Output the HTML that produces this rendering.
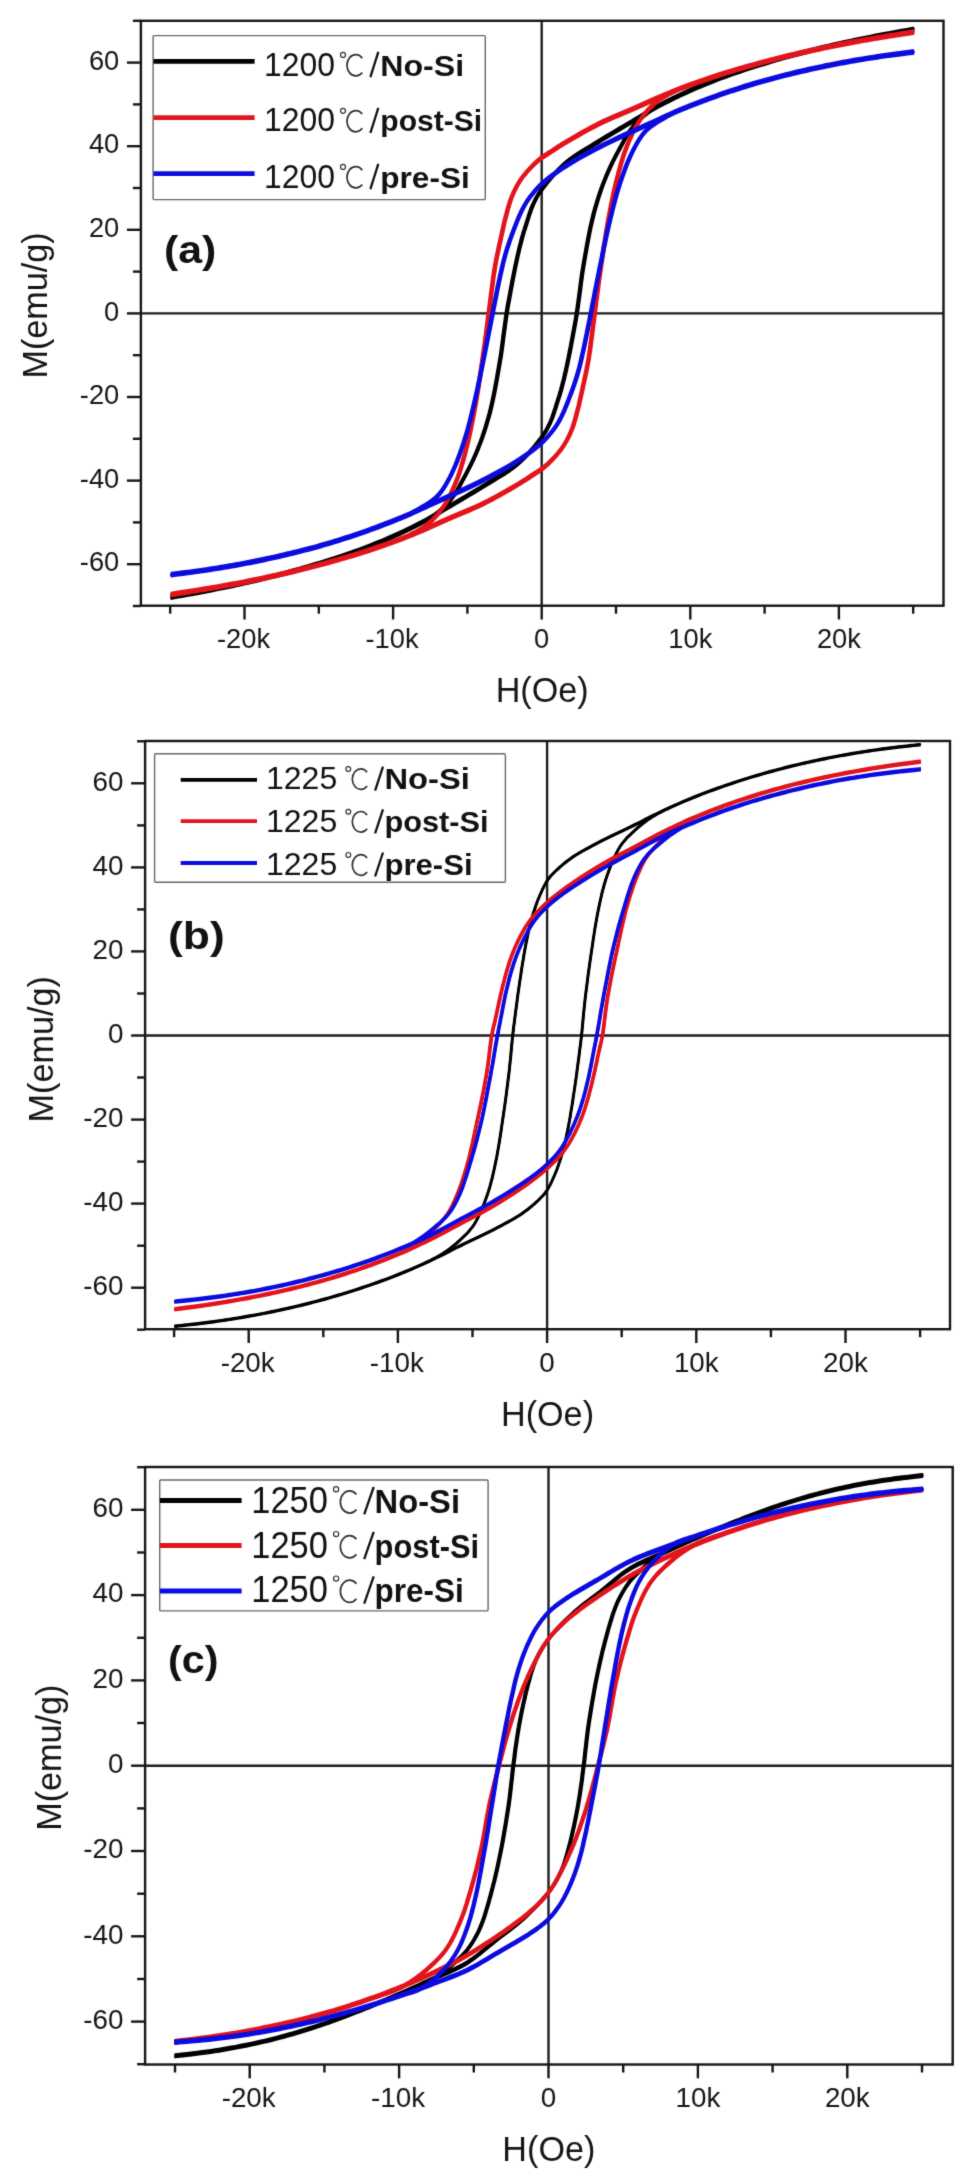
<!DOCTYPE html>
<html><head><meta charset="utf-8"><title>M-H hysteresis loops</title>
<style>
html,body{margin:0;padding:0;background:#fff;}
body{width:975px;height:2182px;overflow:hidden;font-family:"Liberation Sans",sans-serif;}
svg{display:block;}
</style></head><body>
<svg width="975" height="2182" viewBox="0 0 975 2182">
<rect width="975" height="2182" fill="#fff"/>
<defs><filter id="soft" x="0" y="0" width="975" height="2182" filterUnits="userSpaceOnUse" color-interpolation-filters="sRGB"><feConvolveMatrix order="3" kernelMatrix="0.0144 0.0912 0.0144 0.0912 0.5776 0.0912 0.0144 0.0912 0.0144" edgeMode="duplicate" preserveAlpha="true"/></filter></defs>
<g filter="url(#soft)">
<rect width="975" height="2182" fill="#fff"/>
<g id="panel-a">
<g stroke="#1e1e1e" stroke-width="2.4">
<line x1="140.9" y1="313.4" x2="943.5" y2="313.4"/><line x1="541.7" y1="20.8" x2="541.7" y2="605.7"/>
</g>
<clipPath id="clip-a"><rect x="170.6" y="20.8" width="743.8" height="584.9"/></clipPath>
<g fill="none" stroke-width="4.3" stroke-linejoin="round" stroke-linecap="round" clip-path="url(#clip-a)"><g transform="scale(1 1.0)">
<g stroke="#000000" stroke-width="1.6">
<path id="ca0" d="M913.0 29.45 L909.2 30.14 L905.4 30.82 L901.5 31.50 L897.7 32.18 L893.9 32.87 L890.1 33.57 L886.2 34.27 L882.4 35.00 L878.5 35.75 L874.6 36.51 L870.6 37.28 L866.7 38.06 L862.8 38.85 L858.9 39.66 L854.9 40.47 L851.0 41.30 L847.1 42.14 L843.1 43.00 L839.2 43.87 L835.2 44.75 L831.3 45.64 L827.4 46.54 L823.4 47.46 L819.5 48.40 L815.6 49.35 L811.6 50.31 L807.7 51.28 L803.8 52.27 L799.9 53.27 L795.9 54.29 L792.0 55.33 L788.1 56.40 L784.2 57.49 L780.2 58.61 L776.3 59.74 L772.4 60.89 L768.5 62.07 L764.5 63.26 L760.6 64.47 L756.7 65.70 L752.8 66.95 L748.8 68.22 L744.9 69.50 L741.0 70.81 L737.0 72.14 L733.1 73.49 L729.2 74.88 L725.3 76.30 L721.3 77.77 L717.4 79.27 L713.4 80.79 L709.5 82.34 L705.6 83.93 L701.6 85.55 L697.7 87.21 L693.8 88.90 L689.8 90.65 L685.9 92.42 L682.0 94.23 L678.0 96.08 L674.1 97.97 L670.2 99.90 L666.3 101.87 L662.4 103.90 L658.4 106.04 L654.5 108.25 L650.6 110.51 L646.7 112.82 L642.8 115.15 L638.9 117.51 L634.9 119.86 L631.0 122.20 L627.0 124.58 L622.9 126.96 L618.8 129.35 L614.8 131.75 L610.7 134.17 L606.6 136.62 L602.6 139.09 L598.5 141.60 L594.3 144.15 L590.1 146.69 L585.8 149.23 L581.6 151.81 L577.4 154.45 L573.3 157.18 L569.4 160.02 L565.7 163.00 L562.3 166.00 L559.0 169.19 L555.8 172.50 L552.8 175.88 L549.8 179.27 L547.1 182.59 L544.6 185.79 L542.3 188.80 L540.9 190.81 L539.5 192.72 L538.3 194.56 L537.2 196.38 L536.2 198.20 L535.2 200.06 L534.3 201.98 L533.3 204.00 L532.3 206.35 L531.3 208.83 L530.4 211.38 L529.5 213.97 L528.7 216.57 L527.8 219.14 L527.1 221.62 L526.3 224.00 L525.7 225.89 L525.1 227.69 L524.6 229.42 L524.0 231.14 L523.5 232.87 L523.0 234.64 L522.4 236.51 L521.9 238.50 L521.2 241.22 L520.5 244.02 L519.7 246.92 L519.0 249.93 L518.3 253.06 L517.5 256.33 L516.8 259.74 L516.0 263.30 L514.9 268.69 L513.7 274.54 L512.5 280.72 L511.3 287.14 L510.1 293.69 L508.9 300.25 L507.7 306.72 L506.7 313.00 L505.8 318.92 L505.0 324.79 L504.2 330.62 L503.4 336.45 L502.7 342.29 L501.9 348.16 L501.1 354.09 L500.1 360.10 L499.0 366.70 L497.8 373.48 L496.6 380.37 L495.3 387.28 L494.0 394.13 L492.6 400.84 L491.1 407.32 L489.6 413.50 L488.2 418.48 L486.8 423.31 L485.4 428.02 L483.9 432.61 L482.4 437.10 L480.8 441.50 L479.1 445.83 L477.4 450.10 L475.8 453.94 L474.1 457.72 L472.4 461.43 L470.6 465.08 L468.8 468.65 L467.0 472.13 L465.2 475.52 L463.4 478.80 L461.9 481.53 L460.5 484.19 L459.1 486.78 L457.7 489.31 L456.2 491.78 L454.7 494.18 L453.1 496.52 L451.4 498.80 L449.6 500.99 L447.7 503.15 L445.7 505.26 L443.7 507.30 L441.6 509.26 L439.6 511.12 L437.5 512.88 L435.4 514.51 L433.7 515.77 L432.0 516.90 L430.3 517.93 L428.6 518.90 L426.9 519.84 L425.0 520.80 L423.1 521.81 L421.0 522.90 L417.7 524.63 L414.0 526.46 L410.2 528.38 L406.1 530.33 L402.0 532.29 L397.8 534.23 L393.6 536.11 L389.6 537.90 L385.7 539.59 L381.8 541.25 L377.8 542.87 L373.9 544.46 L370.0 546.01 L366.0 547.53 L362.1 549.03 L358.1 550.50 L354.2 551.92 L350.3 553.31 L346.4 554.66 L342.4 555.99 L338.5 557.30 L334.6 558.58 L330.6 559.85 L326.7 561.10 L322.8 562.33 L318.9 563.54 L314.9 564.73 L311.0 565.91 L307.1 567.06 L303.2 568.19 L299.2 569.31 L295.3 570.40 L291.4 571.47 L287.5 572.51 L283.5 573.53 L279.6 574.53 L275.7 575.52 L271.8 576.49 L267.8 577.45 L263.9 578.40 L260.0 579.34 L256.0 580.26 L252.1 581.16 L248.2 582.05 L244.2 582.93 L240.3 583.80 L236.3 584.66 L232.4 585.50 L228.5 586.33 L224.6 587.14 L220.6 587.94 L216.7 588.73 L212.8 589.51 L208.9 590.28 L204.9 591.05 L201.0 591.80 L196.6 592.62 L191.7 593.53 L186.5 594.48 L181.4 595.40 L176.8 596.22 L173.0 596.89 L170.5 597.34 L169.6 597.50 L169.6 597.50 L169.7 597.48 L169.8 597.47 L169.9 597.45 L170.0 597.42 L170.2 597.40 L170.3 597.37 L170.4 597.35 L174.2 596.66 L178.0 595.98 L181.9 595.30 L185.7 594.62 L189.5 593.93 L193.3 593.23 L197.2 592.53 L201.0 591.80 L204.9 591.05 L208.8 590.29 L212.8 589.52 L216.7 588.74 L220.6 587.95 L224.5 587.14 L228.5 586.33 L232.4 585.50 L236.3 584.66 L240.3 583.80 L244.2 582.93 L248.2 582.05 L252.1 581.16 L256.0 580.26 L260.0 579.34 L263.9 578.40 L267.8 577.45 L271.8 576.49 L275.7 575.52 L279.6 574.53 L283.5 573.53 L287.5 572.51 L291.4 571.47 L295.3 570.40 L299.2 569.31 L303.2 568.19 L307.1 567.06 L311.0 565.91 L314.9 564.73 L318.9 563.54 L322.8 562.33 L326.7 561.10 L330.6 559.85 L334.6 558.58 L338.5 557.30 L342.4 555.99 L346.4 554.66 L350.3 553.31 L354.2 551.92 L358.1 550.50 L362.1 549.03 L366.0 547.53 L370.0 546.01 L373.9 544.46 L377.8 542.87 L381.8 541.25 L385.7 539.59 L389.6 537.90 L393.6 536.15 L397.5 534.38 L401.4 532.57 L405.4 530.72 L409.3 528.83 L413.2 526.90 L417.1 524.93 L421.0 522.90 L425.0 520.76 L428.9 518.55 L432.8 516.29 L436.7 513.98 L440.6 511.65 L444.5 509.29 L448.5 506.94 L452.4 504.60 L456.4 502.22 L460.5 499.84 L464.6 497.45 L468.6 495.05 L472.7 492.63 L476.8 490.18 L480.8 487.71 L484.9 485.20 L489.1 482.65 L493.3 480.11 L497.6 477.57 L501.8 474.99 L506.0 472.35 L510.1 469.62 L514.0 466.78 L517.7 463.80 L521.1 460.80 L524.4 457.61 L527.6 454.30 L530.6 450.92 L533.6 447.53 L536.3 444.21 L538.8 441.01 L541.1 438.00 L542.5 435.99 L543.9 434.08 L545.1 432.24 L546.2 430.42 L547.2 428.60 L548.2 426.74 L549.1 424.82 L550.1 422.80 L551.1 420.45 L552.1 417.97 L553.0 415.42 L553.9 412.83 L554.7 410.23 L555.6 407.66 L556.3 405.18 L557.1 402.80 L557.7 400.91 L558.3 399.11 L558.8 397.38 L559.4 395.66 L559.9 393.93 L560.4 392.16 L561.0 390.29 L561.5 388.30 L562.2 385.58 L562.9 382.78 L563.7 379.88 L564.4 376.87 L565.1 373.74 L565.9 370.47 L566.6 367.06 L567.4 363.50 L568.5 358.11 L569.7 352.26 L570.9 346.08 L572.1 339.66 L573.3 333.11 L574.5 326.55 L575.7 320.08 L576.7 313.80 L577.6 307.88 L578.4 302.01 L579.2 296.18 L580.0 290.35 L580.7 284.51 L581.5 278.64 L582.3 272.71 L583.3 266.70 L584.4 260.10 L585.6 253.32 L586.8 246.43 L588.1 239.52 L589.4 232.67 L590.8 225.96 L592.3 219.48 L593.8 213.30 L595.2 208.32 L596.6 203.49 L598.0 198.78 L599.5 194.19 L601.0 189.70 L602.6 185.30 L604.3 180.97 L606.0 176.70 L607.6 172.86 L609.3 169.08 L611.0 165.37 L612.8 161.72 L614.6 158.15 L616.4 154.67 L618.2 151.28 L620.0 148.00 L621.5 145.27 L622.9 142.61 L624.3 140.02 L625.7 137.49 L627.2 135.02 L628.7 132.62 L630.3 130.28 L632.0 128.00 L633.8 125.81 L635.7 123.65 L637.7 121.54 L639.7 119.50 L641.8 117.54 L643.8 115.68 L645.9 113.92 L648.0 112.29 L649.7 111.03 L651.4 109.90 L653.1 108.87 L654.8 107.90 L656.5 106.96 L658.4 106.00 L660.3 104.99 L662.4 103.90 L665.7 102.17 L669.4 100.34 L673.2 98.42 L677.3 96.47 L681.4 94.51 L685.6 92.57 L689.8 90.69 L693.8 88.90 L697.7 87.21 L701.6 85.55 L705.6 83.93 L709.5 82.34 L713.4 80.79 L717.4 79.27 L721.3 77.77 L725.3 76.30 L729.2 74.88 L733.1 73.49 L737.0 72.14 L741.0 70.81 L744.9 69.50 L748.8 68.22 L752.8 66.95 L756.7 65.70 L760.6 64.47 L764.5 63.26 L768.5 62.07 L772.4 60.89 L776.3 59.74 L780.2 58.61 L784.2 57.49 L788.1 56.40 L792.0 55.33 L795.9 54.29 L799.9 53.27 L803.8 52.27 L807.7 51.28 L811.6 50.31 L815.6 49.35 L819.5 48.40 L823.4 47.46 L827.4 46.54 L831.3 45.64 L835.2 44.75 L839.2 43.87 L843.1 43.00 L847.1 42.14 L851.0 41.30 L854.9 40.47 L858.8 39.66 L862.8 38.86 L866.7 38.07 L870.6 37.29 L874.5 36.52 L878.5 35.75 L882.4 35.00 L886.8 34.18 L891.7 33.27 L896.9 32.32 L902.0 31.40 L906.6 30.58 L910.4 29.91 L912.9 29.46 L913.8 29.30 L913.8 29.30 L913.7 29.32 L913.6 29.33 L913.5 29.35 L913.4 29.38 L913.2 29.40 L913.1 29.43 L913.0 29.45"/>
<use href="#ca0" x="1.40" y="0.00"/>
<use href="#ca0" x="-1.40" y="0.00"/>
<use href="#ca0" x="0.00" y="1.85"/>
<use href="#ca0" x="0.00" y="-1.85"/>
<use href="#ca0" x="0.70" y="0.00"/>
<use href="#ca0" x="-0.70" y="0.00"/>
<use href="#ca0" x="0.00" y="0.93"/>
<use href="#ca0" x="0.00" y="-0.93"/>
</g>
<g stroke="#e3141c" stroke-width="1.7">
<path id="ca1" d="M913.0 32.23 L909.2 32.82 L905.4 33.41 L901.6 33.99 L897.8 34.58 L894.0 35.17 L890.2 35.77 L886.4 36.38 L882.6 37.00 L878.7 37.64 L874.8 38.29 L871.0 38.95 L867.1 39.62 L863.2 40.29 L859.3 40.98 L855.4 41.68 L851.5 42.40 L847.6 43.13 L843.7 43.88 L839.8 44.63 L835.9 45.40 L832.0 46.18 L828.1 46.98 L824.2 47.78 L820.3 48.60 L816.4 49.43 L812.5 50.27 L808.6 51.12 L804.7 51.99 L800.8 52.87 L796.9 53.76 L793.0 54.67 L789.1 55.60 L785.2 56.55 L781.3 57.51 L777.4 58.49 L773.5 59.48 L769.6 60.49 L765.8 61.51 L761.9 62.55 L758.0 63.60 L754.1 64.67 L750.2 65.75 L746.3 66.85 L742.4 67.96 L738.5 69.09 L734.6 70.23 L730.7 71.40 L726.8 72.60 L722.9 73.83 L719.0 75.07 L715.1 76.33 L711.2 77.62 L707.3 78.93 L703.4 80.26 L699.5 81.62 L695.6 83.00 L691.7 84.42 L687.8 85.85 L683.9 87.32 L680.0 88.80 L676.1 90.31 L672.2 91.85 L668.4 93.41 L664.5 95.00 L660.6 96.64 L656.7 98.33 L652.8 100.04 L648.9 101.78 L645.1 103.53 L641.2 105.29 L637.2 107.05 L633.3 108.80 L629.2 110.58 L625.0 112.33 L620.9 114.07 L616.7 115.82 L612.5 117.60 L608.3 119.43 L604.1 121.32 L600.0 123.30 L595.7 125.46 L591.3 127.75 L586.9 130.13 L582.6 132.54 L578.3 134.96 L574.2 137.32 L570.3 139.58 L566.7 141.70 L564.3 143.14 L562.0 144.54 L559.8 145.91 L557.7 147.23 L555.7 148.53 L553.8 149.81 L551.9 151.06 L550.0 152.30 L548.5 153.28 L547.0 154.22 L545.6 155.12 L544.3 156.01 L542.9 156.92 L541.6 157.85 L540.2 158.84 L538.9 159.90 L537.5 161.12 L536.0 162.41 L534.6 163.74 L533.2 165.12 L531.8 166.52 L530.4 167.95 L529.1 169.38 L527.8 170.80 L526.6 172.15 L525.5 173.49 L524.4 174.84 L523.3 176.20 L522.2 177.59 L521.2 179.01 L520.2 180.48 L519.2 182.00 L518.2 183.70 L517.2 185.44 L516.2 187.23 L515.3 189.06 L514.3 190.94 L513.5 192.85 L512.6 194.81 L511.8 196.80 L510.9 199.07 L510.1 201.41 L509.4 203.81 L508.6 206.26 L507.9 208.74 L507.2 211.25 L506.6 213.77 L505.9 216.30 L505.2 218.98 L504.5 221.67 L503.9 224.39 L503.3 227.13 L502.7 229.90 L502.1 232.72 L501.4 235.58 L500.8 238.50 L500.1 241.81 L499.3 245.14 L498.6 248.51 L497.9 251.94 L497.1 255.45 L496.4 259.07 L495.7 262.81 L495.0 266.70 L494.2 271.95 L493.3 277.53 L492.6 283.35 L491.8 289.32 L491.0 295.35 L490.3 301.37 L489.5 307.28 L488.8 313.00 L488.1 318.15 L487.5 323.19 L486.8 328.15 L486.2 333.08 L485.5 338.03 L484.9 343.05 L484.2 348.19 L483.4 353.50 L482.5 359.87 L481.5 366.50 L480.5 373.30 L479.5 380.19 L478.4 387.07 L477.3 393.86 L476.2 400.46 L475.1 406.80 L474.1 412.11 L473.1 417.31 L472.1 422.41 L471.1 427.43 L470.1 432.36 L469.0 437.22 L467.9 442.03 L466.7 446.80 L465.6 451.16 L464.5 455.48 L463.3 459.74 L462.1 463.96 L460.9 468.10 L459.6 472.18 L458.2 476.18 L456.7 480.10 L455.3 483.68 L453.8 487.22 L452.2 490.71 L450.6 494.13 L448.9 497.47 L447.2 500.71 L445.3 503.82 L443.4 506.80 L441.5 509.41 L439.6 511.95 L437.6 514.40 L435.5 516.76 L433.3 519.01 L431.2 521.16 L428.9 523.19 L426.7 525.10 L424.7 526.69 L422.6 528.16 L420.5 529.52 L418.4 530.80 L416.2 532.02 L414.0 533.19 L411.7 534.33 L409.4 535.47 L406.9 536.64 L404.3 537.74 L401.7 538.79 L399.1 539.79 L396.3 540.77 L393.6 541.76 L390.7 542.76 L387.8 543.80 L384.2 545.08 L380.4 546.40 L376.5 547.72 L372.6 549.05 L368.6 550.38 L364.6 551.68 L360.6 552.96 L356.6 554.20 L352.7 555.40 L348.8 556.57 L344.9 557.71 L341.0 558.84 L337.1 559.95 L333.2 561.05 L329.3 562.13 L325.4 563.20 L321.5 564.25 L317.6 565.29 L313.8 566.31 L309.9 567.32 L306.0 568.31 L302.1 569.29 L298.2 570.25 L294.3 571.20 L290.4 572.13 L286.5 573.04 L282.6 573.93 L278.7 574.81 L274.8 575.68 L270.9 576.53 L267.0 577.37 L263.1 578.20 L259.2 579.02 L255.3 579.82 L251.4 580.62 L247.5 581.40 L243.6 582.17 L239.7 582.92 L235.8 583.67 L231.9 584.40 L228.0 585.12 L224.1 585.82 L220.2 586.50 L216.4 587.18 L212.5 587.85 L208.6 588.50 L204.7 589.15 L200.8 589.80 L196.5 590.50 L191.5 591.29 L186.4 592.10 L181.3 592.89 L176.7 593.60 L173.0 594.18 L170.5 594.56 L169.6 594.70 L169.6 594.70 L169.7 594.69 L169.8 594.67 L169.9 594.65 L170.0 594.63 L170.2 594.61 L170.3 594.59 L170.4 594.57 L174.2 593.98 L178.0 593.39 L181.8 592.81 L185.6 592.22 L189.4 591.63 L193.2 591.03 L197.0 590.42 L200.8 589.80 L204.7 589.16 L208.6 588.51 L212.4 587.85 L216.3 587.18 L220.2 586.51 L224.1 585.82 L228.0 585.12 L231.9 584.40 L235.8 583.67 L239.7 582.92 L243.6 582.17 L247.5 581.40 L251.4 580.62 L255.3 579.82 L259.2 579.02 L263.1 578.20 L267.0 577.37 L270.9 576.53 L274.8 575.68 L278.7 574.81 L282.6 573.93 L286.5 573.04 L290.4 572.13 L294.3 571.20 L298.2 570.25 L302.1 569.29 L306.0 568.31 L309.9 567.32 L313.8 566.31 L317.6 565.29 L321.5 564.25 L325.4 563.20 L329.3 562.13 L333.2 561.05 L337.1 559.95 L341.0 558.84 L344.9 557.71 L348.8 556.57 L352.7 555.40 L356.6 554.20 L360.5 552.97 L364.4 551.73 L368.3 550.47 L372.2 549.18 L376.1 547.87 L380.0 546.54 L383.9 545.18 L387.8 543.80 L391.7 542.38 L395.6 540.95 L399.5 539.48 L403.4 538.00 L407.3 536.49 L411.2 534.95 L415.0 533.39 L418.9 531.80 L422.8 530.16 L426.7 528.47 L430.6 526.76 L434.5 525.02 L438.3 523.27 L442.2 521.51 L446.2 519.75 L450.1 518.00 L454.2 516.22 L458.4 514.47 L462.5 512.73 L466.7 510.98 L470.9 509.20 L475.1 507.37 L479.3 505.48 L483.4 503.50 L487.7 501.34 L492.1 499.05 L496.5 496.67 L500.8 494.26 L505.1 491.84 L509.2 489.48 L513.1 487.22 L516.7 485.10 L519.1 483.66 L521.4 482.26 L523.6 480.89 L525.7 479.57 L527.7 478.27 L529.6 476.99 L531.5 475.74 L533.4 474.50 L534.9 473.52 L536.4 472.58 L537.8 471.68 L539.1 470.79 L540.5 469.88 L541.8 468.95 L543.2 467.96 L544.5 466.90 L545.9 465.68 L547.4 464.39 L548.8 463.06 L550.2 461.68 L551.6 460.28 L553.0 458.85 L554.3 457.42 L555.6 456.00 L556.8 454.65 L557.9 453.31 L559.0 451.96 L560.1 450.60 L561.2 449.21 L562.2 447.79 L563.2 446.32 L564.2 444.80 L565.2 443.10 L566.2 441.36 L567.2 439.57 L568.1 437.74 L569.1 435.86 L569.9 433.95 L570.8 431.99 L571.6 430.00 L572.5 427.73 L573.3 425.39 L574.0 422.99 L574.8 420.54 L575.5 418.06 L576.2 415.55 L576.8 413.03 L577.5 410.50 L578.2 407.82 L578.9 405.13 L579.5 402.41 L580.1 399.67 L580.7 396.90 L581.3 394.08 L582.0 391.22 L582.6 388.30 L583.3 384.99 L584.1 381.66 L584.8 378.29 L585.5 374.86 L586.3 371.35 L587.0 367.73 L587.7 363.99 L588.4 360.10 L589.2 354.85 L590.1 349.27 L590.8 343.45 L591.6 337.48 L592.4 331.45 L593.1 325.43 L593.9 319.52 L594.6 313.80 L595.3 308.65 L595.9 303.61 L596.6 298.65 L597.2 293.72 L597.9 288.77 L598.5 283.75 L599.2 278.61 L600.0 273.30 L600.9 266.93 L601.9 260.30 L602.9 253.50 L603.9 246.61 L605.0 239.73 L606.1 232.94 L607.2 226.34 L608.3 220.00 L609.3 214.69 L610.3 209.49 L611.3 204.39 L612.3 199.37 L613.3 194.44 L614.4 189.58 L615.5 184.77 L616.7 180.00 L617.8 175.64 L618.9 171.32 L620.1 167.06 L621.3 162.84 L622.5 158.70 L623.8 154.62 L625.2 150.62 L626.7 146.70 L628.1 143.12 L629.6 139.58 L631.2 136.09 L632.8 132.67 L634.5 129.33 L636.2 126.09 L638.1 122.98 L640.0 120.00 L641.9 117.39 L643.8 114.85 L645.8 112.40 L647.9 110.04 L650.1 107.79 L652.2 105.64 L654.5 103.61 L656.7 101.70 L658.7 100.11 L660.8 98.64 L662.9 97.28 L665.0 96.00 L667.2 94.78 L669.4 93.61 L671.7 92.47 L674.0 91.33 L676.5 90.16 L679.1 89.06 L681.7 88.01 L684.3 87.01 L687.1 86.03 L689.8 85.04 L692.7 84.04 L695.6 83.00 L699.2 81.72 L703.0 80.40 L706.9 79.08 L710.8 77.75 L714.8 76.42 L718.8 75.12 L722.8 73.84 L726.8 72.60 L730.7 71.40 L734.6 70.23 L738.5 69.09 L742.4 67.96 L746.3 66.85 L750.2 65.75 L754.1 64.67 L758.0 63.60 L761.9 62.55 L765.8 61.51 L769.6 60.49 L773.5 59.48 L777.4 58.49 L781.3 57.51 L785.2 56.55 L789.1 55.60 L793.0 54.67 L796.9 53.76 L800.8 52.87 L804.7 51.99 L808.6 51.12 L812.5 50.27 L816.4 49.43 L820.3 48.60 L824.2 47.78 L828.1 46.98 L832.0 46.18 L835.9 45.40 L839.8 44.63 L843.7 43.88 L847.6 43.13 L851.5 42.40 L855.4 41.68 L859.3 40.98 L863.2 40.30 L867.0 39.62 L870.9 38.95 L874.8 38.30 L878.7 37.65 L882.6 37.00 L886.9 36.30 L891.9 35.51 L897.0 34.70 L902.1 33.91 L906.7 33.20 L910.4 32.62 L912.9 32.24 L913.8 32.10 L913.8 32.10 L913.7 32.11 L913.6 32.13 L913.5 32.15 L913.4 32.17 L913.2 32.19 L913.1 32.21 L913.0 32.23"/>
<use href="#ca1" x="1.50" y="0.00"/>
<use href="#ca1" x="-1.50" y="0.00"/>
<use href="#ca1" x="0.00" y="1.95"/>
<use href="#ca1" x="0.00" y="-1.95"/>
<use href="#ca1" x="0.75" y="0.00"/>
<use href="#ca1" x="-0.75" y="0.00"/>
<use href="#ca1" x="0.00" y="0.97"/>
<use href="#ca1" x="0.00" y="-0.97"/>
</g>
<g stroke="#0c0ce0" stroke-width="1.7">
<path id="ca2" d="M913.0 52.10 L909.4 52.56 L905.9 53.01 L902.3 53.45 L898.8 53.90 L895.2 54.35 L891.6 54.82 L888.1 55.30 L884.5 55.80 L880.9 56.33 L877.2 56.87 L873.5 57.42 L869.9 57.99 L866.2 58.57 L862.5 59.17 L858.9 59.78 L855.2 60.40 L851.5 61.04 L847.9 61.69 L844.2 62.35 L840.5 63.03 L836.9 63.73 L833.2 64.44 L829.6 65.16 L825.9 65.90 L822.2 66.66 L818.6 67.43 L814.9 68.22 L811.2 69.03 L807.6 69.85 L803.9 70.68 L800.3 71.54 L796.6 72.40 L792.9 73.28 L789.2 74.18 L785.6 75.09 L781.9 76.01 L778.2 76.95 L774.5 77.91 L770.9 78.90 L767.2 79.90 L763.5 80.93 L759.9 81.98 L756.2 83.05 L752.5 84.14 L748.9 85.25 L745.2 86.38 L741.6 87.53 L737.9 88.70 L734.2 89.89 L730.6 91.11 L726.9 92.34 L723.2 93.59 L719.6 94.86 L715.9 96.15 L712.3 97.47 L708.6 98.80 L704.9 100.16 L701.3 101.55 L697.6 102.95 L693.9 104.37 L690.3 105.82 L686.6 107.28 L682.9 108.78 L679.3 110.30 L675.7 111.85 L672.1 113.40 L668.6 114.96 L665.1 116.55 L661.5 118.19 L657.9 119.88 L654.0 121.65 L650.0 123.50 L644.3 126.09 L638.2 128.87 L631.7 131.78 L625.1 134.78 L618.5 137.83 L612.0 140.88 L605.8 143.88 L600.0 146.80 L595.4 149.16 L591.0 151.48 L586.7 153.79 L582.5 156.10 L578.4 158.41 L574.4 160.73 L570.5 163.10 L566.7 165.50 L563.3 167.68 L560.0 169.90 L556.8 172.15 L553.6 174.41 L550.5 176.67 L547.6 178.93 L544.9 181.18 L542.3 183.40 L540.4 185.13 L538.7 186.86 L537.0 188.60 L535.5 190.33 L534.0 192.05 L532.6 193.74 L531.3 195.39 L530.0 197.00 L529.1 198.20 L528.3 199.35 L527.5 200.47 L526.8 201.58 L526.1 202.70 L525.4 203.85 L524.7 205.04 L524.0 206.30 L523.2 207.81 L522.4 209.34 L521.6 210.90 L520.9 212.51 L520.1 214.19 L519.3 215.95 L518.5 217.82 L517.7 219.80 L516.4 222.99 L515.0 226.52 L513.6 230.28 L512.1 234.22 L510.6 238.24 L509.2 242.26 L507.9 246.21 L506.7 250.00 L505.7 253.37 L504.8 256.66 L503.9 259.91 L503.1 263.16 L502.3 266.43 L501.6 269.75 L500.8 273.17 L500.0 276.70 L499.1 280.93 L498.2 285.26 L497.3 289.68 L496.4 294.20 L495.5 298.79 L494.6 303.46 L493.6 308.20 L492.7 313.00 L491.6 318.60 L490.5 324.35 L489.3 330.23 L488.2 336.18 L487.0 342.19 L485.8 348.20 L484.6 354.18 L483.4 360.10 L482.2 365.99 L481.0 371.93 L479.8 377.89 L478.5 383.84 L477.3 389.73 L476.0 395.55 L474.7 401.25 L473.4 406.80 L472.2 411.63 L471.1 416.36 L469.9 421.01 L468.7 425.60 L467.5 430.12 L466.2 434.61 L464.8 439.06 L463.4 443.50 L461.9 447.84 L460.4 452.22 L458.8 456.59 L457.2 460.90 L455.5 465.13 L453.7 469.22 L451.9 473.12 L450.1 476.80 L448.6 479.65 L447.1 482.39 L445.6 485.02 L444.0 487.55 L442.4 489.98 L440.7 492.33 L438.8 494.60 L436.7 496.80 L434.2 499.11 L431.3 501.37 L428.2 503.55 L425.0 505.62 L421.8 507.55 L418.7 509.33 L415.9 510.93 L413.4 512.31 L412.1 513.01 L410.9 513.59 L409.9 514.09 L408.9 514.54 L407.8 514.97 L406.7 515.42 L405.5 515.92 L404.1 516.50 L401.2 517.69 L397.9 519.04 L394.3 520.48 L390.5 522.00 L386.5 523.55 L382.5 525.09 L378.6 526.59 L374.8 528.00 L371.1 529.33 L367.5 530.65 L363.8 531.94 L360.2 533.21 L356.5 534.46 L352.8 535.69 L349.2 536.91 L345.5 538.10 L341.8 539.27 L338.2 540.42 L334.5 541.55 L330.9 542.66 L327.2 543.75 L323.5 544.82 L319.9 545.87 L316.2 546.90 L312.5 547.90 L308.9 548.89 L305.2 549.85 L301.5 550.79 L297.8 551.71 L294.2 552.62 L290.5 553.52 L286.8 554.40 L283.1 555.26 L279.5 556.12 L275.8 556.95 L272.2 557.77 L268.5 558.58 L264.8 559.37 L261.2 560.14 L257.5 560.90 L253.8 561.64 L250.2 562.36 L246.5 563.07 L242.9 563.77 L239.2 564.45 L235.5 565.11 L231.9 565.76 L228.2 566.40 L224.5 567.02 L220.9 567.63 L217.2 568.22 L213.6 568.80 L209.9 569.37 L206.2 569.93 L202.6 570.47 L198.9 571.00 L194.8 571.56 L190.2 572.18 L185.3 572.82 L180.6 573.42 L176.3 573.97 L172.8 574.40 L170.5 574.69 L169.6 574.80 L169.6 574.80 L169.7 574.79 L169.8 574.78 L169.9 574.76 L170.0 574.74 L170.2 574.73 L170.3 574.71 L170.4 574.70 L174.0 574.24 L177.5 573.79 L181.1 573.35 L184.6 572.90 L188.2 572.45 L191.8 571.98 L195.3 571.50 L198.9 571.00 L202.5 570.47 L206.2 569.93 L209.9 569.38 L213.5 568.81 L217.2 568.23 L220.9 567.63 L224.5 567.02 L228.2 566.40 L231.9 565.76 L235.5 565.11 L239.2 564.45 L242.9 563.77 L246.5 563.07 L250.2 562.36 L253.8 561.64 L257.5 560.90 L261.2 560.14 L264.8 559.37 L268.5 558.58 L272.2 557.77 L275.8 556.95 L279.5 556.12 L283.1 555.26 L286.8 554.40 L290.5 553.52 L294.2 552.62 L297.8 551.71 L301.5 550.79 L305.2 549.85 L308.9 548.89 L312.5 547.90 L316.2 546.90 L319.9 545.87 L323.5 544.82 L327.2 543.75 L330.9 542.66 L334.5 541.55 L338.2 540.42 L341.8 539.27 L345.5 538.10 L349.2 536.91 L352.8 535.69 L356.5 534.46 L360.2 533.21 L363.8 531.94 L367.5 530.65 L371.1 529.33 L374.8 528.00 L378.5 526.64 L382.1 525.25 L385.8 523.85 L389.5 522.43 L393.1 520.98 L396.8 519.52 L400.5 518.02 L404.1 516.50 L407.7 514.95 L411.3 513.40 L414.8 511.84 L418.3 510.25 L421.9 508.61 L425.5 506.92 L429.4 505.15 L433.4 503.30 L439.1 500.71 L445.2 497.93 L451.7 495.02 L458.3 492.02 L464.9 488.97 L471.4 485.92 L477.6 482.92 L483.4 480.00 L488.0 477.64 L492.4 475.32 L496.7 473.01 L500.9 470.70 L505.0 468.39 L509.0 466.07 L512.9 463.70 L516.7 461.30 L520.1 459.12 L523.4 456.90 L526.6 454.65 L529.8 452.39 L532.9 450.13 L535.8 447.87 L538.5 445.62 L541.1 443.40 L543.0 441.67 L544.7 439.94 L546.4 438.20 L547.9 436.47 L549.4 434.75 L550.8 433.06 L552.1 431.41 L553.4 429.80 L554.3 428.60 L555.1 427.45 L555.9 426.33 L556.6 425.22 L557.3 424.10 L558.0 422.95 L558.7 421.76 L559.4 420.50 L560.2 418.99 L561.0 417.46 L561.8 415.90 L562.5 414.29 L563.3 412.61 L564.1 410.85 L564.9 408.98 L565.7 407.00 L567.0 403.81 L568.4 400.28 L569.8 396.52 L571.3 392.58 L572.8 388.56 L574.2 384.54 L575.5 380.59 L576.7 376.80 L577.7 373.43 L578.6 370.14 L579.5 366.89 L580.3 363.64 L581.1 360.37 L581.8 357.05 L582.6 353.63 L583.4 350.10 L584.3 345.87 L585.2 341.54 L586.1 337.12 L587.0 332.60 L587.9 328.01 L588.8 323.34 L589.8 318.60 L590.7 313.80 L591.8 308.20 L592.9 302.45 L594.1 296.57 L595.2 290.62 L596.4 284.61 L597.6 278.60 L598.8 272.62 L600.0 266.70 L601.2 260.81 L602.4 254.87 L603.6 248.91 L604.9 242.96 L606.1 237.07 L607.4 231.25 L608.7 225.55 L610.0 220.00 L611.2 215.17 L612.3 210.44 L613.5 205.79 L614.7 201.20 L615.9 196.68 L617.2 192.19 L618.6 187.74 L620.0 183.30 L621.5 178.96 L623.0 174.58 L624.6 170.21 L626.2 165.90 L627.9 161.67 L629.7 157.58 L631.5 153.68 L633.3 150.00 L634.8 147.15 L636.3 144.41 L637.8 141.78 L639.4 139.25 L641.0 136.82 L642.7 134.47 L644.6 132.20 L646.7 130.00 L649.2 127.69 L652.1 125.43 L655.2 123.25 L658.4 121.18 L661.6 119.25 L664.7 117.47 L667.5 115.87 L670.0 114.49 L671.3 113.79 L672.5 113.21 L673.5 112.71 L674.5 112.26 L675.6 111.83 L676.7 111.38 L677.9 110.88 L679.3 110.30 L682.2 109.11 L685.5 107.76 L689.1 106.32 L692.9 104.80 L696.9 103.25 L700.9 101.71 L704.8 100.21 L708.6 98.80 L712.3 97.47 L715.9 96.15 L719.6 94.86 L723.2 93.59 L726.9 92.34 L730.6 91.11 L734.2 89.89 L737.9 88.70 L741.6 87.53 L745.2 86.38 L748.9 85.25 L752.5 84.14 L756.2 83.05 L759.9 81.98 L763.5 80.93 L767.2 79.90 L770.9 78.90 L774.5 77.91 L778.2 76.95 L781.9 76.01 L785.6 75.09 L789.2 74.18 L792.9 73.28 L796.6 72.40 L800.3 71.54 L803.9 70.68 L807.6 69.85 L811.2 69.03 L814.9 68.22 L818.6 67.43 L822.2 66.66 L825.9 65.90 L829.6 65.16 L833.2 64.44 L836.9 63.73 L840.5 63.03 L844.2 62.35 L847.9 61.69 L851.5 61.04 L855.2 60.40 L858.9 59.78 L862.5 59.17 L866.2 58.58 L869.8 58.00 L873.5 57.43 L877.2 56.87 L880.8 56.33 L884.5 55.80 L888.6 55.24 L893.2 54.62 L898.1 53.98 L902.8 53.38 L907.1 52.83 L910.6 52.40 L912.9 52.11 L913.8 52.00 L913.8 52.00 L913.7 52.01 L913.6 52.02 L913.5 52.04 L913.4 52.06 L913.2 52.07 L913.1 52.09 L913.0 52.10"/>
<use href="#ca2" x="1.50" y="0.00"/>
<use href="#ca2" x="-1.50" y="0.00"/>
<use href="#ca2" x="0.00" y="1.95"/>
<use href="#ca2" x="0.00" y="-1.95"/>
<use href="#ca2" x="0.75" y="0.00"/>
<use href="#ca2" x="-0.75" y="0.00"/>
<use href="#ca2" x="0.00" y="0.97"/>
<use href="#ca2" x="0.00" y="-0.97"/>
</g>
</g></g>
<rect x="140.9" y="20.8" width="802.6" height="584.9" fill="none" stroke="#161616" stroke-width="2.4"/>
<g stroke="#161616" stroke-width="2.4">
<line x1="132.9" y1="606.0" x2="140.9" y2="606.0"/>
<line x1="126.9" y1="564.2" x2="140.9" y2="564.2"/>
<line x1="132.9" y1="522.4" x2="140.9" y2="522.4"/>
<line x1="126.9" y1="480.6" x2="140.9" y2="480.6"/>
<line x1="132.9" y1="438.8" x2="140.9" y2="438.8"/>
<line x1="126.9" y1="397.0" x2="140.9" y2="397.0"/>
<line x1="132.9" y1="355.2" x2="140.9" y2="355.2"/>
<line x1="126.9" y1="313.4" x2="140.9" y2="313.4"/>
<line x1="132.9" y1="271.6" x2="140.9" y2="271.6"/>
<line x1="126.9" y1="229.8" x2="140.9" y2="229.8"/>
<line x1="132.9" y1="188.0" x2="140.9" y2="188.0"/>
<line x1="126.9" y1="146.2" x2="140.9" y2="146.2"/>
<line x1="132.9" y1="104.4" x2="140.9" y2="104.4"/>
<line x1="126.9" y1="62.6" x2="140.9" y2="62.6"/>
<line x1="132.9" y1="20.8" x2="140.9" y2="20.8"/>
<line x1="170.2" y1="605.7" x2="170.2" y2="613.7"/>
<line x1="244.5" y1="605.7" x2="244.5" y2="619.5"/>
<line x1="318.8" y1="605.7" x2="318.8" y2="613.7"/>
<line x1="393.1" y1="605.7" x2="393.1" y2="619.5"/>
<line x1="467.4" y1="605.7" x2="467.4" y2="613.7"/>
<line x1="541.7" y1="605.7" x2="541.7" y2="619.5"/>
<line x1="616.0" y1="605.7" x2="616.0" y2="613.7"/>
<line x1="690.3" y1="605.7" x2="690.3" y2="619.5"/>
<line x1="764.6" y1="605.7" x2="764.6" y2="613.7"/>
<line x1="838.9" y1="605.7" x2="838.9" y2="619.5"/>
<line x1="913.2" y1="605.7" x2="913.2" y2="613.7"/>
</g>
<g font-family="Liberation Sans, sans-serif" font-size="27.3" fill="#161616">
<text x="119.3" y="571.4" text-anchor="end">-60</text>
<text x="119.3" y="487.8" text-anchor="end">-40</text>
<text x="119.3" y="404.2" text-anchor="end">-20</text>
<text x="119.3" y="320.6" text-anchor="end">0</text>
<text x="119.3" y="237.0" text-anchor="end">20</text>
<text x="119.3" y="153.4" text-anchor="end">40</text>
<text x="119.3" y="69.8" text-anchor="end">60</text>
<text x="243.5" y="648.4" text-anchor="middle">-20k</text>
<text x="392.1" y="648.4" text-anchor="middle">-10k</text>
<text x="541.7" y="648.4" text-anchor="middle">0</text>
<text x="690.3" y="648.4" text-anchor="middle">10k</text>
<text x="838.9" y="648.4" text-anchor="middle">20k</text>
</g>
<g font-family="Liberation Sans, sans-serif" font-size="34.2" fill="#161616">
<text x="542.2" y="702.3" text-anchor="middle">H(Oe)</text>
<text transform="translate(46.8 305.4) rotate(-90)" text-anchor="middle">M(emu/g)</text>
</g>
<rect x="153.1" y="35.6" width="332.2" height="164.0" rx="1.2" fill="#fff" stroke="#686868" stroke-width="1.4"/>
<line x1="153.5" y1="61.4" x2="254.6" y2="61.4" stroke="#000000" stroke-width="4.8"/>
<text x="264.0" y="75.5" font-family="Liberation Sans, sans-serif" font-size="33.5" fill="#111" textLength="70.9" lengthAdjust="spacingAndGlyphs">1200</text>
<circle cx="343.0" cy="54.9" r="2.5" fill="none" stroke="#333" stroke-width="1.2"/>
<path d="M362.3 58.2 A8.8 10.6 0 1 0 362.3 72.4" fill="none" stroke="#333" stroke-width="1.7"/>
<line x1="370.4" y1="77.1" x2="378.3" y2="51.9" stroke="#111" stroke-width="2.3"/>
<text x="380.3" y="75.5" font-family="Liberation Sans, sans-serif" font-weight="bold" font-size="30.3" fill="#111" textLength="83.8" lengthAdjust="spacingAndGlyphs">No-Si</text>
<line x1="153.5" y1="117.7" x2="254.6" y2="117.7" stroke="#e3141c" stroke-width="4.8"/>
<text x="264.0" y="131.4" font-family="Liberation Sans, sans-serif" font-size="33.5" fill="#111" textLength="70.9" lengthAdjust="spacingAndGlyphs">1200</text>
<circle cx="343.0" cy="110.8" r="2.5" fill="none" stroke="#333" stroke-width="1.2"/>
<path d="M362.3 114.1 A8.8 10.6 0 1 0 362.3 128.3" fill="none" stroke="#333" stroke-width="1.7"/>
<line x1="370.4" y1="133.0" x2="378.3" y2="107.8" stroke="#111" stroke-width="2.3"/>
<text x="380.3" y="131.4" font-family="Liberation Sans, sans-serif" font-weight="bold" font-size="30.3" fill="#111" textLength="101.8" lengthAdjust="spacingAndGlyphs">post-Si</text>
<line x1="153.5" y1="173.6" x2="254.6" y2="173.6" stroke="#0c0ce0" stroke-width="4.8"/>
<text x="264.0" y="187.5" font-family="Liberation Sans, sans-serif" font-size="33.5" fill="#111" textLength="70.9" lengthAdjust="spacingAndGlyphs">1200</text>
<circle cx="343.0" cy="166.9" r="2.5" fill="none" stroke="#333" stroke-width="1.2"/>
<path d="M362.3 170.2 A8.8 10.6 0 1 0 362.3 184.4" fill="none" stroke="#333" stroke-width="1.7"/>
<line x1="370.4" y1="189.1" x2="378.3" y2="163.9" stroke="#111" stroke-width="2.3"/>
<text x="380.3" y="187.5" font-family="Liberation Sans, sans-serif" font-weight="bold" font-size="30.3" fill="#111" textLength="89.5" lengthAdjust="spacingAndGlyphs">pre-Si</text>
<text x="164.0" y="263.0" font-family="Liberation Sans, sans-serif" font-weight="bold" font-size="39" fill="#111" textLength="52.4" lengthAdjust="spacingAndGlyphs">(a)</text>
</g>
<g id="panel-b">
<g stroke="#1e1e1e" stroke-width="2.4">
<line x1="145.1" y1="1035.5" x2="950.0" y2="1035.5"/><line x1="547.1" y1="741.0" x2="547.1" y2="1329.2"/>
</g>
<clipPath id="clip-b"><rect x="174.4" y="741.0" width="746.4" height="588.2"/></clipPath>
<g fill="none" stroke-width="3.0" stroke-linejoin="round" stroke-linecap="round" clip-path="url(#clip-b)"><g transform="scale(1 1.0)">
<g stroke="#000000" stroke-width="1.4">
<path id="cb0" d="M919.7 744.69 L915.8 745.12 L911.9 745.54 L908.1 745.96 L904.2 746.38 L900.3 746.80 L896.4 747.24 L892.5 747.71 L888.6 748.20 L884.6 748.73 L880.6 749.27 L876.7 749.83 L872.7 750.41 L868.7 751.01 L864.7 751.62 L860.7 752.25 L856.7 752.90 L852.7 753.56 L848.7 754.24 L844.7 754.94 L840.7 755.65 L836.7 756.38 L832.8 757.14 L828.8 757.91 L824.8 758.70 L820.8 759.52 L816.8 760.35 L812.8 761.21 L808.8 762.09 L804.8 762.98 L800.9 763.90 L796.9 764.84 L792.9 765.80 L788.9 766.79 L784.9 767.80 L780.9 768.82 L776.9 769.87 L772.9 770.95 L768.9 772.04 L764.9 773.16 L760.9 774.30 L756.9 775.47 L752.9 776.66 L748.9 777.87 L744.9 779.11 L740.9 780.37 L737.0 781.65 L733.0 782.96 L729.0 784.30 L725.0 785.67 L721.0 787.07 L717.0 788.49 L713.0 789.93 L709.0 791.41 L705.0 792.91 L701.1 794.44 L697.1 796.00 L693.1 797.61 L689.1 799.25 L685.1 800.92 L681.1 802.61 L677.1 804.34 L673.1 806.10 L669.2 807.88 L665.2 809.70 L661.2 811.58 L657.2 813.51 L653.2 815.48 L649.3 817.47 L645.3 819.48 L641.3 821.50 L637.3 823.51 L633.3 825.50 L629.1 827.52 L624.9 829.54 L620.7 831.56 L616.4 833.58 L612.2 835.60 L608.1 837.63 L604.0 839.66 L600.0 841.70 L596.4 843.56 L592.9 845.41 L589.4 847.26 L586.0 849.12 L582.6 850.99 L579.4 852.87 L576.3 854.77 L573.3 856.70 L570.9 858.33 L568.7 859.99 L566.4 861.67 L564.3 863.36 L562.3 865.04 L560.3 866.71 L558.5 868.37 L556.7 870.00 L555.4 871.25 L554.1 872.46 L553.0 873.65 L551.8 874.83 L550.8 876.04 L549.7 877.29 L548.7 878.60 L547.7 880.00 L546.6 881.67 L545.6 883.42 L544.6 885.24 L543.6 887.13 L542.7 889.06 L541.8 891.02 L540.9 893.00 L540.0 895.00 L539.1 897.15 L538.2 899.33 L537.3 901.53 L536.5 903.77 L535.7 906.06 L534.9 908.40 L534.1 910.81 L533.3 913.30 L532.4 916.34 L531.5 919.46 L530.7 922.67 L529.8 925.96 L529.0 929.34 L528.2 932.80 L527.5 936.36 L526.7 940.00 L525.8 944.61 L524.9 949.45 L524.0 954.46 L523.2 959.58 L522.3 964.75 L521.5 969.92 L520.8 975.02 L520.0 980.00 L519.3 984.74 L518.6 989.57 L517.9 994.41 L517.3 999.21 L516.7 1003.91 L516.1 1008.43 L515.5 1012.71 L515.0 1016.70 L514.7 1019.28 L514.4 1021.65 L514.1 1023.87 L513.8 1026.01 L513.5 1028.16 L513.3 1030.37 L513.0 1032.73 L512.7 1035.30 L512.3 1039.17 L511.9 1043.27 L511.5 1047.58 L511.1 1052.06 L510.7 1056.67 L510.2 1061.39 L509.7 1066.18 L509.2 1071.00 L508.5 1076.89 L507.7 1083.05 L506.9 1089.39 L506.1 1095.83 L505.2 1102.30 L504.3 1108.70 L503.4 1114.96 L502.5 1121.00 L501.7 1126.25 L501.0 1131.41 L500.2 1136.51 L499.4 1141.53 L498.6 1146.49 L497.7 1151.39 L496.9 1156.22 L495.9 1161.00 L495.0 1165.34 L494.1 1169.62 L493.1 1173.85 L492.2 1178.03 L491.1 1182.15 L490.0 1186.24 L488.8 1190.29 L487.5 1194.30 L486.1 1198.25 L484.6 1202.26 L483.1 1206.27 L481.4 1210.22 L479.7 1214.05 L477.9 1217.71 L476.1 1221.15 L474.2 1224.30 L472.7 1226.54 L471.1 1228.62 L469.5 1230.56 L467.9 1232.39 L466.2 1234.15 L464.5 1235.86 L462.7 1237.57 L460.9 1239.30 L459.0 1241.10 L457.0 1242.88 L454.9 1244.63 L452.8 1246.35 L450.7 1248.02 L448.6 1249.64 L446.4 1251.20 L444.2 1252.70 L442.1 1254.08 L439.9 1255.38 L437.8 1256.61 L435.6 1257.79 L433.4 1258.95 L431.1 1260.11 L428.7 1261.29 L426.2 1262.50 L422.9 1264.06 L419.5 1265.63 L415.9 1267.22 L412.2 1268.80 L408.5 1270.38 L404.7 1271.95 L400.9 1273.49 L397.1 1275.00 L393.2 1276.53 L389.3 1278.05 L385.3 1279.55 L381.3 1281.03 L377.3 1282.49 L373.2 1283.92 L369.2 1285.32 L365.2 1286.70 L361.2 1288.04 L357.2 1289.35 L353.3 1290.63 L349.3 1291.89 L345.3 1293.13 L341.3 1294.34 L337.3 1295.53 L333.3 1296.70 L329.3 1297.84 L325.3 1298.96 L321.3 1300.05 L317.3 1301.13 L313.3 1302.18 L309.3 1303.20 L305.3 1304.21 L301.3 1305.20 L297.3 1306.16 L293.3 1307.10 L289.4 1308.02 L285.4 1308.91 L281.4 1309.79 L277.4 1310.65 L273.4 1311.48 L269.4 1312.30 L265.4 1313.09 L261.4 1313.86 L257.5 1314.62 L253.5 1315.35 L249.5 1316.06 L245.5 1316.76 L241.5 1317.44 L237.5 1318.10 L233.5 1318.75 L229.5 1319.38 L225.5 1319.99 L221.6 1320.59 L217.6 1321.17 L213.6 1321.73 L209.6 1322.27 L205.6 1322.80 L201.2 1323.35 L196.1 1323.95 L190.8 1324.55 L185.7 1325.12 L181.0 1325.63 L177.2 1326.03 L174.6 1326.30 L173.7 1326.40 L173.7 1326.40 L173.8 1326.39 L173.9 1326.38 L174.0 1326.37 L174.1 1326.35 L174.3 1326.34 L174.4 1326.32 L174.5 1326.31 L178.4 1325.88 L182.3 1325.46 L186.1 1325.04 L190.0 1324.62 L193.9 1324.20 L197.8 1323.76 L201.7 1323.29 L205.6 1322.80 L209.6 1322.27 L213.6 1321.73 L217.5 1321.17 L221.5 1320.59 L225.5 1319.99 L229.5 1319.38 L233.5 1318.75 L237.5 1318.10 L241.5 1317.44 L245.5 1316.76 L249.5 1316.06 L253.5 1315.35 L257.5 1314.62 L261.4 1313.86 L265.4 1313.09 L269.4 1312.30 L273.4 1311.48 L277.4 1310.65 L281.4 1309.79 L285.4 1308.91 L289.4 1308.02 L293.3 1307.10 L297.3 1306.16 L301.3 1305.20 L305.3 1304.21 L309.3 1303.20 L313.3 1302.18 L317.3 1301.13 L321.3 1300.05 L325.3 1298.96 L329.3 1297.84 L333.3 1296.70 L337.3 1295.53 L341.3 1294.34 L345.3 1293.13 L349.3 1291.89 L353.3 1290.63 L357.2 1289.35 L361.2 1288.04 L365.2 1286.70 L369.2 1285.33 L373.2 1283.93 L377.2 1282.51 L381.2 1281.07 L385.2 1279.59 L389.2 1278.09 L393.1 1276.56 L397.1 1275.00 L401.1 1273.39 L405.1 1271.75 L409.1 1270.08 L413.1 1268.39 L417.1 1266.66 L421.1 1264.90 L425.0 1263.12 L429.0 1261.30 L433.0 1259.42 L437.0 1257.49 L441.0 1255.52 L444.9 1253.53 L448.9 1251.52 L452.9 1249.50 L456.9 1247.49 L460.9 1245.50 L465.1 1243.48 L469.3 1241.46 L473.5 1239.44 L477.8 1237.42 L482.0 1235.40 L486.1 1233.37 L490.2 1231.34 L494.2 1229.30 L497.8 1227.44 L501.3 1225.59 L504.8 1223.74 L508.2 1221.88 L511.6 1220.01 L514.8 1218.13 L517.9 1216.23 L520.9 1214.30 L523.3 1212.67 L525.5 1211.01 L527.8 1209.33 L529.9 1207.64 L531.9 1205.96 L533.9 1204.29 L535.7 1202.63 L537.5 1201.00 L538.8 1199.75 L540.1 1198.54 L541.2 1197.35 L542.4 1196.17 L543.4 1194.96 L544.5 1193.71 L545.5 1192.40 L546.5 1191.00 L547.6 1189.33 L548.6 1187.58 L549.6 1185.76 L550.6 1183.87 L551.5 1181.94 L552.4 1179.98 L553.3 1178.00 L554.2 1176.00 L555.1 1173.85 L556.0 1171.67 L556.9 1169.47 L557.7 1167.23 L558.5 1164.94 L559.3 1162.60 L560.1 1160.19 L560.9 1157.70 L561.8 1154.66 L562.7 1151.54 L563.5 1148.33 L564.4 1145.04 L565.2 1141.66 L566.0 1138.20 L566.7 1134.64 L567.5 1131.00 L568.4 1126.39 L569.3 1121.55 L570.2 1116.54 L571.0 1111.42 L571.9 1106.25 L572.7 1101.08 L573.4 1095.98 L574.2 1091.00 L574.9 1086.26 L575.6 1081.43 L576.3 1076.59 L576.9 1071.79 L577.5 1067.09 L578.1 1062.57 L578.7 1058.29 L579.2 1054.30 L579.5 1051.72 L579.8 1049.35 L580.1 1047.13 L580.4 1044.99 L580.7 1042.84 L580.9 1040.63 L581.2 1038.27 L581.5 1035.70 L581.9 1031.83 L582.3 1027.73 L582.7 1023.42 L583.1 1018.94 L583.5 1014.33 L584.0 1009.61 L584.5 1004.82 L585.0 1000.00 L585.7 994.11 L586.5 987.95 L587.3 981.61 L588.1 975.17 L589.0 968.70 L589.9 962.30 L590.8 956.04 L591.7 950.00 L592.5 944.75 L593.2 939.59 L594.0 934.49 L594.8 929.47 L595.6 924.51 L596.5 919.61 L597.3 914.78 L598.3 910.00 L599.2 905.66 L600.1 901.38 L601.1 897.15 L602.0 892.97 L603.1 888.85 L604.2 884.76 L605.4 880.71 L606.7 876.70 L608.1 872.75 L609.6 868.74 L611.1 864.73 L612.8 860.78 L614.5 856.95 L616.3 853.29 L618.1 849.85 L620.0 846.70 L621.5 844.46 L623.1 842.38 L624.7 840.44 L626.3 838.61 L628.0 836.85 L629.7 835.14 L631.5 833.43 L633.3 831.70 L635.2 829.90 L637.2 828.12 L639.3 826.37 L641.4 824.65 L643.5 822.98 L645.6 821.36 L647.8 819.80 L650.0 818.30 L652.1 816.92 L654.3 815.62 L656.4 814.39 L658.6 813.21 L660.8 812.05 L663.1 810.89 L665.5 809.71 L668.0 808.50 L671.3 806.94 L674.7 805.37 L678.3 803.78 L682.0 802.20 L685.7 800.62 L689.5 799.05 L693.3 797.51 L697.1 796.00 L701.0 794.47 L704.9 792.95 L708.9 791.45 L712.9 789.97 L716.9 788.51 L721.0 787.08 L725.0 785.68 L729.0 784.30 L733.0 782.96 L737.0 781.65 L740.9 780.37 L744.9 779.11 L748.9 777.87 L752.9 776.66 L756.9 775.47 L760.9 774.30 L764.9 773.16 L768.9 772.04 L772.9 770.95 L776.9 769.87 L780.9 768.82 L784.9 767.80 L788.9 766.79 L792.9 765.80 L796.9 764.84 L800.9 763.90 L804.8 762.98 L808.8 762.09 L812.8 761.21 L816.8 760.35 L820.8 759.52 L824.8 758.70 L828.8 757.91 L832.8 757.14 L836.7 756.38 L840.7 755.65 L844.7 754.94 L848.7 754.24 L852.7 753.56 L856.7 752.90 L860.7 752.25 L864.7 751.62 L868.7 751.01 L872.6 750.41 L876.6 749.83 L880.6 749.27 L884.6 748.73 L888.6 748.20 L893.0 747.65 L898.1 747.05 L903.4 746.45 L908.5 745.88 L913.2 745.37 L917.0 744.97 L919.6 744.70 L920.5 744.60 L920.5 744.60 L920.4 744.61 L920.3 744.62 L920.2 744.63 L920.1 744.65 L919.9 744.66 L919.8 744.68 L919.7 744.69"/>
<use href="#cb0" x="0.80" y="0.00"/>
<use href="#cb0" x="-0.80" y="0.00"/>
<use href="#cb0" x="0.00" y="1.00"/>
<use href="#cb0" x="0.00" y="-1.00"/>
<use href="#cb0" x="0.40" y="0.00"/>
<use href="#cb0" x="-0.40" y="0.00"/>
<use href="#cb0" x="0.00" y="0.50"/>
<use href="#cb0" x="0.00" y="-0.50"/>
</g>
<g stroke="#e3141c" stroke-width="1.8">
<path id="cb1" d="M919.7 761.81 L915.8 762.31 L911.9 762.81 L908.1 763.30 L904.2 763.79 L900.3 764.29 L896.4 764.80 L892.5 765.34 L888.6 765.90 L884.6 766.49 L880.6 767.10 L876.7 767.73 L872.7 768.37 L868.7 769.03 L864.7 769.71 L860.7 770.40 L856.7 771.10 L852.7 771.82 L848.7 772.55 L844.7 773.30 L840.7 774.07 L836.7 774.85 L832.8 775.64 L828.8 776.46 L824.8 777.30 L820.8 778.16 L816.8 779.04 L812.8 779.93 L808.8 780.84 L804.8 781.78 L800.9 782.73 L796.9 783.70 L792.9 784.70 L788.9 785.72 L784.9 786.77 L780.9 787.83 L776.9 788.91 L772.9 790.02 L768.9 791.15 L764.9 792.31 L760.9 793.50 L756.9 794.72 L752.9 795.97 L748.9 797.24 L744.9 798.54 L740.9 799.87 L736.9 801.22 L733.0 802.60 L729.0 804.00 L725.0 805.44 L721.0 806.91 L717.0 808.39 L713.0 809.91 L709.0 811.46 L705.0 813.04 L701.1 814.65 L697.1 816.30 L693.1 818.01 L689.1 819.75 L685.1 821.53 L681.1 823.34 L677.1 825.19 L673.2 827.06 L669.2 828.97 L665.2 830.90 L661.2 832.91 L657.1 834.96 L653.1 837.06 L649.1 839.18 L645.0 841.32 L641.0 843.47 L637.0 845.64 L632.9 847.80 L628.8 849.99 L624.6 852.17 L620.4 854.36 L616.2 856.56 L612.0 858.79 L607.9 861.07 L603.7 863.40 L599.6 865.80 L595.3 868.36 L591.0 871.04 L586.6 873.78 L582.3 876.57 L578.0 879.36 L573.9 882.11 L570.0 884.81 L566.3 887.40 L563.6 889.34 L561.1 891.23 L558.6 893.09 L556.2 894.92 L553.9 896.75 L551.7 898.59 L549.5 900.47 L547.3 902.40 L545.2 904.26 L543.2 906.12 L541.2 907.99 L539.2 909.89 L537.3 911.82 L535.4 913.79 L533.6 915.81 L531.9 917.90 L530.3 920.04 L528.7 922.22 L527.2 924.45 L525.7 926.73 L524.3 929.05 L523.0 931.42 L521.6 933.83 L520.3 936.30 L518.9 939.02 L517.6 941.79 L516.3 944.62 L515.0 947.50 L513.8 950.44 L512.6 953.44 L511.4 956.49 L510.3 959.60 L509.1 963.14 L508.0 966.79 L506.9 970.52 L505.8 974.31 L504.8 978.14 L503.8 981.98 L502.8 985.81 L501.9 989.60 L501.0 993.41 L500.1 997.32 L499.2 1001.27 L498.4 1005.21 L497.5 1009.07 L496.8 1012.80 L496.0 1016.33 L495.3 1019.60 L494.8 1021.71 L494.4 1023.61 L493.9 1025.39 L493.5 1027.11 L493.1 1028.85 L492.7 1030.68 L492.3 1032.67 L491.9 1034.90 L491.2 1038.91 L490.6 1043.35 L490.0 1048.13 L489.4 1053.17 L488.8 1058.39 L488.1 1063.70 L487.3 1069.04 L486.5 1074.30 L485.4 1080.32 L484.3 1086.53 L483.1 1092.88 L481.8 1099.30 L480.5 1105.72 L479.1 1112.07 L477.8 1118.28 L476.5 1124.30 L475.4 1129.56 L474.3 1134.77 L473.2 1139.91 L472.1 1144.97 L470.9 1149.96 L469.8 1154.84 L468.6 1159.63 L467.3 1164.30 L466.2 1168.32 L465.0 1172.29 L463.8 1176.20 L462.5 1180.02 L461.3 1183.75 L460.0 1187.39 L458.7 1190.91 L457.3 1194.30 L456.1 1197.06 L455.0 1199.74 L453.8 1202.34 L452.7 1204.87 L451.4 1207.32 L450.1 1209.71 L448.8 1212.04 L447.3 1214.30 L445.8 1216.36 L444.3 1218.31 L442.7 1220.19 L441.1 1222.02 L439.4 1223.82 L437.7 1225.62 L435.9 1227.44 L434.0 1229.30 L431.8 1231.54 L429.4 1233.88 L427.0 1236.26 L424.4 1238.63 L421.9 1240.93 L419.3 1243.10 L416.7 1245.10 L414.2 1246.87 L412.1 1248.15 L410.1 1249.25 L408.1 1250.23 L406.0 1251.12 L403.9 1251.97 L401.8 1252.82 L399.5 1253.71 L397.1 1254.70 L393.6 1256.15 L389.8 1257.67 L385.9 1259.24 L381.8 1260.83 L377.6 1262.42 L373.4 1264.00 L369.3 1265.53 L365.2 1267.00 L361.2 1268.40 L357.3 1269.78 L353.3 1271.13 L349.3 1272.46 L345.3 1273.76 L341.3 1275.03 L337.3 1276.28 L333.3 1277.50 L329.3 1278.69 L325.3 1279.85 L321.3 1280.98 L317.3 1282.09 L313.3 1283.17 L309.3 1284.23 L305.3 1285.28 L301.3 1286.30 L297.3 1287.30 L293.3 1288.27 L289.4 1289.22 L285.4 1290.16 L281.4 1291.07 L277.4 1291.96 L273.4 1292.84 L269.4 1293.70 L265.4 1294.54 L261.4 1295.36 L257.5 1296.15 L253.5 1296.93 L249.5 1297.70 L245.5 1298.45 L241.5 1299.18 L237.5 1299.90 L233.5 1300.60 L229.5 1301.29 L225.5 1301.97 L221.6 1302.62 L217.6 1303.27 L213.6 1303.89 L209.6 1304.50 L205.6 1305.10 L201.2 1305.73 L196.1 1306.42 L190.8 1307.12 L185.7 1307.79 L181.0 1308.38 L177.2 1308.86 L174.6 1309.18 L173.7 1309.30 L173.7 1309.30 L173.8 1309.29 L173.9 1309.28 L174.0 1309.26 L174.1 1309.24 L174.3 1309.23 L174.4 1309.21 L174.5 1309.19 L178.4 1308.69 L182.3 1308.19 L186.1 1307.70 L190.0 1307.21 L193.9 1306.71 L197.8 1306.20 L201.7 1305.66 L205.6 1305.10 L209.6 1304.51 L213.6 1303.90 L217.5 1303.27 L221.5 1302.63 L225.5 1301.97 L229.5 1301.29 L233.5 1300.60 L237.5 1299.90 L241.5 1299.18 L245.5 1298.45 L249.5 1297.70 L253.5 1296.93 L257.5 1296.15 L261.4 1295.36 L265.4 1294.54 L269.4 1293.70 L273.4 1292.84 L277.4 1291.96 L281.4 1291.07 L285.4 1290.16 L289.4 1289.22 L293.3 1288.27 L297.3 1287.30 L301.3 1286.30 L305.3 1285.28 L309.3 1284.23 L313.3 1283.17 L317.3 1282.09 L321.3 1280.98 L325.3 1279.85 L329.3 1278.69 L333.3 1277.50 L337.3 1276.28 L341.3 1275.03 L345.3 1273.76 L349.3 1272.46 L353.3 1271.13 L357.3 1269.78 L361.2 1268.40 L365.2 1267.00 L369.2 1265.56 L373.2 1264.09 L377.2 1262.61 L381.2 1261.09 L385.2 1259.54 L389.2 1257.96 L393.1 1256.35 L397.1 1254.70 L401.1 1252.99 L405.1 1251.25 L409.1 1249.47 L413.1 1247.66 L417.1 1245.81 L421.0 1243.94 L425.0 1242.03 L429.0 1240.10 L433.0 1238.09 L437.1 1236.04 L441.1 1233.94 L445.1 1231.82 L449.2 1229.68 L453.2 1227.53 L457.2 1225.36 L461.3 1223.20 L465.4 1221.01 L469.6 1218.83 L473.8 1216.64 L478.0 1214.44 L482.2 1212.21 L486.3 1209.93 L490.5 1207.60 L494.6 1205.20 L498.9 1202.64 L503.2 1199.96 L507.6 1197.22 L511.9 1194.43 L516.2 1191.64 L520.3 1188.89 L524.2 1186.19 L527.9 1183.60 L530.6 1181.66 L533.1 1179.77 L535.6 1177.91 L538.0 1176.08 L540.3 1174.25 L542.5 1172.41 L544.7 1170.53 L546.9 1168.60 L549.0 1166.74 L551.0 1164.88 L553.0 1163.01 L555.0 1161.11 L556.9 1159.18 L558.8 1157.21 L560.6 1155.19 L562.3 1153.10 L563.9 1150.96 L565.5 1148.78 L567.0 1146.55 L568.5 1144.27 L569.9 1141.95 L571.2 1139.58 L572.6 1137.17 L573.9 1134.70 L575.3 1131.98 L576.6 1129.21 L577.9 1126.38 L579.2 1123.50 L580.4 1120.56 L581.6 1117.56 L582.8 1114.51 L583.9 1111.40 L585.1 1107.86 L586.2 1104.21 L587.3 1100.48 L588.4 1096.69 L589.4 1092.86 L590.4 1089.02 L591.4 1085.19 L592.3 1081.40 L593.2 1077.59 L594.1 1073.68 L595.0 1069.73 L595.8 1065.79 L596.7 1061.93 L597.4 1058.20 L598.2 1054.67 L598.9 1051.40 L599.4 1049.29 L599.8 1047.39 L600.3 1045.61 L600.7 1043.89 L601.1 1042.15 L601.5 1040.32 L601.9 1038.33 L602.3 1036.10 L603.0 1032.09 L603.6 1027.65 L604.2 1022.87 L604.8 1017.83 L605.4 1012.61 L606.1 1007.30 L606.9 1001.96 L607.7 996.70 L608.8 990.68 L609.9 984.47 L611.1 978.12 L612.4 971.70 L613.7 965.28 L615.1 958.93 L616.4 952.72 L617.7 946.70 L618.8 941.44 L619.9 936.23 L621.0 931.09 L622.1 926.03 L623.3 921.04 L624.4 916.16 L625.6 911.37 L626.9 906.70 L628.0 902.68 L629.2 898.71 L630.4 894.80 L631.7 890.98 L632.9 887.25 L634.2 883.61 L635.5 880.09 L636.9 876.70 L638.1 873.94 L639.2 871.26 L640.4 868.66 L641.5 866.13 L642.8 863.68 L644.1 861.29 L645.4 858.96 L646.9 856.70 L648.4 854.64 L649.9 852.69 L651.5 850.81 L653.1 848.98 L654.8 847.18 L656.5 845.38 L658.3 843.56 L660.2 841.70 L662.4 839.46 L664.8 837.12 L667.2 834.74 L669.8 832.37 L672.3 830.07 L674.9 827.90 L677.5 825.90 L680.0 824.13 L682.1 822.85 L684.1 821.75 L686.1 820.77 L688.2 819.88 L690.3 819.03 L692.4 818.18 L694.7 817.29 L697.1 816.30 L700.6 814.85 L704.4 813.33 L708.3 811.76 L712.4 810.17 L716.6 808.58 L720.8 807.00 L724.9 805.47 L729.0 804.00 L733.0 802.60 L736.9 801.22 L740.9 799.87 L744.9 798.54 L748.9 797.24 L752.9 795.97 L756.9 794.72 L760.9 793.50 L764.9 792.31 L768.9 791.15 L772.9 790.02 L776.9 788.91 L780.9 787.83 L784.9 786.77 L788.9 785.72 L792.9 784.70 L796.9 783.70 L800.9 782.73 L804.8 781.78 L808.8 780.84 L812.8 779.93 L816.8 779.04 L820.8 778.16 L824.8 777.30 L828.8 776.46 L832.8 775.64 L836.7 774.85 L840.7 774.07 L844.7 773.30 L848.7 772.55 L852.7 771.82 L856.7 771.10 L860.7 770.40 L864.7 769.71 L868.7 769.03 L872.6 768.38 L876.6 767.73 L880.6 767.11 L884.6 766.50 L888.6 765.90 L893.0 765.27 L898.1 764.58 L903.4 763.88 L908.5 763.21 L913.2 762.62 L917.0 762.14 L919.6 761.82 L920.5 761.70 L920.5 761.70 L920.4 761.71 L920.3 761.72 L920.2 761.74 L920.1 761.76 L919.9 761.77 L919.8 761.79 L919.7 761.81"/>
<use href="#cb1" x="1.00" y="0.00"/>
<use href="#cb1" x="-1.00" y="0.00"/>
<use href="#cb1" x="0.00" y="1.30"/>
<use href="#cb1" x="0.00" y="-1.30"/>
<use href="#cb1" x="0.50" y="0.00"/>
<use href="#cb1" x="-0.50" y="0.00"/>
<use href="#cb1" x="0.00" y="0.65"/>
<use href="#cb1" x="0.00" y="-0.65"/>
</g>
<g stroke="#0c0ce0" stroke-width="1.8">
<path id="cb2" d="M919.7 769.39 L915.8 769.79 L911.9 770.19 L908.1 770.58 L904.2 770.97 L900.3 771.38 L896.4 771.79 L892.5 772.23 L888.6 772.70 L884.6 773.20 L880.6 773.71 L876.7 774.25 L872.7 774.80 L868.7 775.37 L864.7 775.96 L860.7 776.57 L856.7 777.20 L852.7 777.85 L848.7 778.53 L844.7 779.22 L840.7 779.93 L836.7 780.67 L832.8 781.42 L828.8 782.20 L824.8 783.00 L820.8 783.82 L816.8 784.67 L812.8 785.54 L808.8 786.43 L804.8 787.34 L800.9 788.27 L796.9 789.23 L792.9 790.20 L788.9 791.20 L784.9 792.22 L780.9 793.26 L776.9 794.32 L772.9 795.40 L768.9 796.51 L764.9 797.64 L760.9 798.80 L756.9 799.99 L752.9 801.20 L748.9 802.43 L744.9 803.69 L740.9 804.98 L736.9 806.29 L733.0 807.63 L729.0 809.00 L725.0 810.41 L721.0 811.86 L717.0 813.33 L713.0 814.83 L709.0 816.35 L705.0 817.91 L701.1 819.49 L697.1 821.10 L693.1 822.75 L689.1 824.42 L685.1 826.11 L681.1 827.83 L677.1 829.59 L673.1 831.38 L669.1 833.22 L665.2 835.10 L661.2 837.06 L657.3 839.08 L653.4 841.14 L649.5 843.24 L645.5 845.36 L641.6 847.51 L637.7 849.65 L633.7 851.80 L629.6 854.00 L625.4 856.20 L621.2 858.41 L617.1 860.64 L612.9 862.89 L608.7 865.18 L604.5 867.51 L600.4 869.90 L596.1 872.42 L591.8 875.02 L587.4 877.68 L583.1 880.37 L578.8 883.07 L574.7 885.74 L570.8 888.36 L567.1 890.90 L564.4 892.83 L561.8 894.71 L559.3 896.57 L556.9 898.41 L554.6 900.25 L552.4 902.10 L550.2 903.98 L548.1 905.90 L546.2 907.65 L544.4 909.39 L542.7 911.14 L541.0 912.91 L539.3 914.71 L537.8 916.55 L536.2 918.44 L534.7 920.40 L533.2 922.48 L531.8 924.61 L530.4 926.79 L529.1 929.02 L527.8 931.30 L526.6 933.62 L525.3 935.99 L524.1 938.40 L522.8 941.09 L521.5 943.83 L520.2 946.63 L519.0 949.48 L517.8 952.38 L516.6 955.34 L515.5 958.35 L514.4 961.40 L513.3 964.83 L512.2 968.36 L511.1 971.95 L510.1 975.61 L509.1 979.30 L508.2 983.01 L507.3 986.71 L506.4 990.40 L505.5 994.18 L504.7 998.08 L503.9 1002.03 L503.1 1005.98 L502.4 1009.85 L501.7 1013.59 L501.0 1017.12 L500.4 1020.40 L500.0 1022.51 L499.6 1024.42 L499.2 1026.20 L498.9 1027.93 L498.5 1029.67 L498.2 1031.50 L497.8 1033.49 L497.4 1035.70 L496.7 1039.65 L495.9 1044.00 L495.1 1048.67 L494.3 1053.60 L493.5 1058.69 L492.6 1063.89 L491.6 1069.12 L490.7 1074.30 L489.6 1080.29 L488.4 1086.49 L487.2 1092.84 L486.0 1099.27 L484.7 1105.70 L483.4 1112.07 L482.1 1118.29 L480.7 1124.30 L479.4 1129.57 L478.1 1134.78 L476.8 1139.92 L475.5 1144.98 L474.1 1149.96 L472.7 1154.84 L471.3 1159.62 L469.9 1164.30 L468.7 1168.32 L467.5 1172.30 L466.3 1176.22 L465.0 1180.07 L463.8 1183.81 L462.5 1187.44 L461.1 1190.95 L459.7 1194.30 L458.5 1196.98 L457.3 1199.58 L456.0 1202.09 L454.7 1204.52 L453.4 1206.87 L452.0 1209.15 L450.5 1211.36 L448.9 1213.50 L447.3 1215.46 L445.6 1217.31 L443.9 1219.09 L442.1 1220.81 L440.3 1222.48 L438.4 1224.14 L436.4 1225.81 L434.4 1227.50 L432.1 1229.44 L429.6 1231.43 L427.1 1233.43 L424.5 1235.41 L421.9 1237.33 L419.3 1239.16 L416.7 1240.86 L414.2 1242.40 L412.1 1243.56 L410.0 1244.59 L408.0 1245.52 L406.0 1246.38 L403.9 1247.21 L401.8 1248.05 L399.5 1248.94 L397.1 1249.90 L393.6 1251.32 L389.8 1252.81 L385.9 1254.35 L381.8 1255.92 L377.6 1257.50 L373.4 1259.05 L369.3 1260.56 L365.2 1262.00 L361.2 1263.37 L357.3 1264.71 L353.3 1266.02 L349.3 1267.31 L345.3 1268.57 L341.3 1269.80 L337.3 1271.01 L333.3 1272.20 L329.3 1273.36 L325.3 1274.49 L321.3 1275.60 L317.3 1276.68 L313.3 1277.74 L309.3 1278.78 L305.3 1279.80 L301.3 1280.80 L297.3 1281.77 L293.3 1282.73 L289.4 1283.66 L285.4 1284.57 L281.4 1285.46 L277.4 1286.33 L273.4 1287.18 L269.4 1288.00 L265.4 1288.80 L261.4 1289.58 L257.5 1290.33 L253.5 1291.07 L249.5 1291.78 L245.5 1292.47 L241.5 1293.15 L237.5 1293.80 L233.5 1294.43 L229.5 1295.04 L225.5 1295.63 L221.6 1296.20 L217.6 1296.75 L213.6 1297.28 L209.6 1297.80 L205.6 1298.30 L201.2 1298.82 L196.1 1299.39 L190.8 1299.95 L185.7 1300.49 L181.0 1300.97 L177.2 1301.35 L174.6 1301.61 L173.7 1301.70 L173.7 1301.70 L173.8 1301.69 L173.9 1301.68 L174.0 1301.67 L174.1 1301.65 L174.3 1301.64 L174.4 1301.63 L174.5 1301.61 L178.4 1301.21 L182.3 1300.81 L186.1 1300.42 L190.0 1300.03 L193.9 1299.62 L197.8 1299.21 L201.7 1298.77 L205.6 1298.30 L209.6 1297.80 L213.6 1297.29 L217.5 1296.75 L221.5 1296.20 L225.5 1295.63 L229.5 1295.04 L233.5 1294.43 L237.5 1293.80 L241.5 1293.15 L245.5 1292.47 L249.5 1291.78 L253.5 1291.07 L257.5 1290.33 L261.4 1289.58 L265.4 1288.80 L269.4 1288.00 L273.4 1287.18 L277.4 1286.33 L281.4 1285.46 L285.4 1284.57 L289.4 1283.66 L293.3 1282.73 L297.3 1281.77 L301.3 1280.80 L305.3 1279.80 L309.3 1278.78 L313.3 1277.74 L317.3 1276.68 L321.3 1275.60 L325.3 1274.49 L329.3 1273.36 L333.3 1272.20 L337.3 1271.01 L341.3 1269.80 L345.3 1268.57 L349.3 1267.31 L353.3 1266.02 L357.3 1264.71 L361.2 1263.37 L365.2 1262.00 L369.2 1260.59 L373.2 1259.14 L377.2 1257.67 L381.2 1256.17 L385.2 1254.65 L389.2 1253.09 L393.1 1251.51 L397.1 1249.90 L401.1 1248.25 L405.1 1246.58 L409.1 1244.89 L413.1 1243.17 L417.1 1241.41 L421.1 1239.62 L425.1 1237.78 L429.0 1235.90 L433.0 1233.94 L436.9 1231.92 L440.8 1229.86 L444.7 1227.76 L448.7 1225.64 L452.6 1223.49 L456.5 1221.35 L460.5 1219.20 L464.6 1217.00 L468.8 1214.80 L473.0 1212.59 L477.1 1210.36 L481.3 1208.11 L485.5 1205.82 L489.7 1203.49 L493.8 1201.10 L498.1 1198.58 L502.4 1195.98 L506.8 1193.32 L511.1 1190.63 L515.4 1187.93 L519.5 1185.26 L523.4 1182.64 L527.1 1180.10 L529.8 1178.17 L532.4 1176.29 L534.9 1174.43 L537.3 1172.59 L539.6 1170.75 L541.8 1168.90 L544.0 1167.02 L546.1 1165.10 L548.0 1163.35 L549.8 1161.61 L551.5 1159.86 L553.2 1158.09 L554.9 1156.29 L556.4 1154.45 L558.0 1152.56 L559.5 1150.60 L561.0 1148.52 L562.4 1146.39 L563.8 1144.21 L565.1 1141.98 L566.4 1139.70 L567.6 1137.38 L568.9 1135.01 L570.1 1132.60 L571.4 1129.91 L572.7 1127.17 L574.0 1124.37 L575.2 1121.52 L576.4 1118.62 L577.6 1115.66 L578.7 1112.65 L579.8 1109.60 L580.9 1106.17 L582.0 1102.64 L583.1 1099.05 L584.1 1095.39 L585.1 1091.70 L586.0 1087.99 L586.9 1084.29 L587.8 1080.60 L588.7 1076.82 L589.5 1072.92 L590.3 1068.97 L591.1 1065.02 L591.8 1061.15 L592.5 1057.41 L593.2 1053.88 L593.8 1050.60 L594.2 1048.49 L594.6 1046.58 L595.0 1044.80 L595.3 1043.07 L595.7 1041.33 L596.0 1039.50 L596.4 1037.51 L596.8 1035.30 L597.5 1031.35 L598.3 1027.00 L599.1 1022.33 L599.9 1017.40 L600.7 1012.31 L601.6 1007.11 L602.6 1001.88 L603.5 996.70 L604.6 990.71 L605.8 984.51 L607.0 978.16 L608.2 971.73 L609.5 965.30 L610.8 958.93 L612.1 952.71 L613.5 946.70 L614.8 941.43 L616.1 936.22 L617.4 931.08 L618.7 926.02 L620.1 921.04 L621.5 916.16 L622.9 911.38 L624.3 906.70 L625.5 902.68 L626.7 898.70 L627.9 894.78 L629.2 890.93 L630.4 887.19 L631.7 883.56 L633.1 880.05 L634.5 876.70 L635.7 874.02 L636.9 871.42 L638.2 868.91 L639.5 866.48 L640.8 864.13 L642.2 861.85 L643.7 859.64 L645.3 857.50 L646.9 855.54 L648.6 853.69 L650.3 851.91 L652.1 850.19 L653.9 848.52 L655.8 846.86 L657.8 845.19 L659.8 843.50 L662.1 841.56 L664.6 839.57 L667.1 837.57 L669.7 835.59 L672.3 833.67 L674.9 831.84 L677.5 830.14 L680.0 828.60 L682.1 827.44 L684.2 826.41 L686.2 825.48 L688.2 824.62 L690.3 823.79 L692.4 822.95 L694.7 822.06 L697.1 821.10 L700.6 819.68 L704.4 818.19 L708.3 816.65 L712.4 815.08 L716.6 813.50 L720.8 811.95 L724.9 810.44 L729.0 809.00 L733.0 807.63 L736.9 806.29 L740.9 804.98 L744.9 803.69 L748.9 802.43 L752.9 801.20 L756.9 799.99 L760.9 798.80 L764.9 797.64 L768.9 796.51 L772.9 795.40 L776.9 794.32 L780.9 793.26 L784.9 792.22 L788.9 791.20 L792.9 790.20 L796.9 789.23 L800.9 788.27 L804.8 787.34 L808.8 786.43 L812.8 785.54 L816.8 784.67 L820.8 783.82 L824.8 783.00 L828.8 782.20 L832.8 781.42 L836.7 780.67 L840.7 779.93 L844.7 779.22 L848.7 778.53 L852.7 777.85 L856.7 777.20 L860.7 776.57 L864.7 775.96 L868.7 775.37 L872.6 774.80 L876.6 774.25 L880.6 773.72 L884.6 773.20 L888.6 772.70 L893.0 772.18 L898.1 771.61 L903.4 771.05 L908.5 770.51 L913.2 770.03 L917.0 769.65 L919.6 769.39 L920.5 769.30 L920.5 769.30 L920.4 769.31 L920.3 769.32 L920.2 769.33 L920.1 769.35 L919.9 769.36 L919.8 769.37 L919.7 769.39"/>
<use href="#cb2" x="1.00" y="0.00"/>
<use href="#cb2" x="-1.00" y="0.00"/>
<use href="#cb2" x="0.00" y="1.30"/>
<use href="#cb2" x="0.00" y="-1.30"/>
<use href="#cb2" x="0.50" y="0.00"/>
<use href="#cb2" x="-0.50" y="0.00"/>
<use href="#cb2" x="0.00" y="0.65"/>
<use href="#cb2" x="0.00" y="-0.65"/>
</g>
</g></g>
<rect x="145.1" y="741.0" width="804.9" height="588.2" fill="none" stroke="#161616" stroke-width="2.4"/>
<g stroke="#161616" stroke-width="2.4">
<line x1="137.1" y1="1329.7" x2="145.1" y2="1329.7"/>
<line x1="131.1" y1="1287.7" x2="145.1" y2="1287.7"/>
<line x1="137.1" y1="1245.7" x2="145.1" y2="1245.7"/>
<line x1="131.1" y1="1203.6" x2="145.1" y2="1203.6"/>
<line x1="137.1" y1="1161.6" x2="145.1" y2="1161.6"/>
<line x1="131.1" y1="1119.6" x2="145.1" y2="1119.6"/>
<line x1="137.1" y1="1077.5" x2="145.1" y2="1077.5"/>
<line x1="131.1" y1="1035.5" x2="145.1" y2="1035.5"/>
<line x1="137.1" y1="993.5" x2="145.1" y2="993.5"/>
<line x1="131.1" y1="951.4" x2="145.1" y2="951.4"/>
<line x1="137.1" y1="909.4" x2="145.1" y2="909.4"/>
<line x1="131.1" y1="867.4" x2="145.1" y2="867.4"/>
<line x1="137.1" y1="825.4" x2="145.1" y2="825.4"/>
<line x1="131.1" y1="783.3" x2="145.1" y2="783.3"/>
<line x1="137.1" y1="741.3" x2="145.1" y2="741.3"/>
<line x1="174.1" y1="1329.2" x2="174.1" y2="1337.2"/>
<line x1="248.7" y1="1329.2" x2="248.7" y2="1343.0"/>
<line x1="323.3" y1="1329.2" x2="323.3" y2="1337.2"/>
<line x1="397.9" y1="1329.2" x2="397.9" y2="1343.0"/>
<line x1="472.5" y1="1329.2" x2="472.5" y2="1337.2"/>
<line x1="547.1" y1="1329.2" x2="547.1" y2="1343.0"/>
<line x1="621.7" y1="1329.2" x2="621.7" y2="1337.2"/>
<line x1="696.3" y1="1329.2" x2="696.3" y2="1343.0"/>
<line x1="770.9" y1="1329.2" x2="770.9" y2="1337.2"/>
<line x1="845.5" y1="1329.2" x2="845.5" y2="1343.0"/>
<line x1="920.1" y1="1329.2" x2="920.1" y2="1337.2"/>
</g>
<g font-family="Liberation Sans, sans-serif" font-size="27.8" fill="#161616">
<text x="123.5" y="1294.9" text-anchor="end">-60</text>
<text x="123.5" y="1210.8" text-anchor="end">-40</text>
<text x="123.5" y="1126.8" text-anchor="end">-20</text>
<text x="123.5" y="1042.7" text-anchor="end">0</text>
<text x="123.5" y="958.6" text-anchor="end">20</text>
<text x="123.5" y="874.6" text-anchor="end">40</text>
<text x="123.5" y="790.5" text-anchor="end">60</text>
<text x="247.7" y="1371.9" text-anchor="middle">-20k</text>
<text x="396.9" y="1371.9" text-anchor="middle">-10k</text>
<text x="547.1" y="1371.9" text-anchor="middle">0</text>
<text x="696.3" y="1371.9" text-anchor="middle">10k</text>
<text x="845.5" y="1371.9" text-anchor="middle">20k</text>
</g>
<g font-family="Liberation Sans, sans-serif" font-size="34.2" fill="#161616">
<text x="547.5" y="1425.8" text-anchor="middle">H(Oe)</text>
<text transform="translate(52.5 1049.3) rotate(-90)" text-anchor="middle">M(emu/g)</text>
</g>
<rect x="154.6" y="753.8" width="350.8" height="128.4" rx="1.2" fill="#fff" stroke="#686868" stroke-width="1.4"/>
<line x1="180.7" y1="779.9" x2="257.0" y2="779.9" stroke="#000000" stroke-width="3.8"/>
<text x="266.0" y="789.0" font-family="Liberation Sans, sans-serif" font-size="32.2" fill="#111" textLength="71.2" lengthAdjust="spacingAndGlyphs">1225</text>
<circle cx="348.3" cy="769.0" r="2.4" fill="none" stroke="#333" stroke-width="1.2"/>
<path d="M367.1 772.2 A8.5 10.3 0 1 0 367.1 786.0" fill="none" stroke="#333" stroke-width="1.7"/>
<line x1="375.1" y1="790.6" x2="383.0" y2="766.6" stroke="#111" stroke-width="2.3"/>
<text x="384.5" y="789.0" font-family="Liberation Sans, sans-serif" font-weight="bold" font-size="29.0" fill="#111" textLength="85.4" lengthAdjust="spacingAndGlyphs">No-Si</text>
<line x1="180.7" y1="821.2" x2="257.0" y2="821.2" stroke="#e3141c" stroke-width="3.8"/>
<text x="266.0" y="831.7" font-family="Liberation Sans, sans-serif" font-size="32.2" fill="#111" textLength="71.2" lengthAdjust="spacingAndGlyphs">1225</text>
<circle cx="348.3" cy="811.7" r="2.4" fill="none" stroke="#333" stroke-width="1.2"/>
<path d="M367.1 814.9 A8.5 10.3 0 1 0 367.1 828.7" fill="none" stroke="#333" stroke-width="1.7"/>
<line x1="375.1" y1="833.3" x2="383.0" y2="809.3" stroke="#111" stroke-width="2.3"/>
<text x="384.5" y="831.7" font-family="Liberation Sans, sans-serif" font-weight="bold" font-size="29.0" fill="#111" textLength="104.1" lengthAdjust="spacingAndGlyphs">post-Si</text>
<line x1="180.7" y1="863.0" x2="257.0" y2="863.0" stroke="#0c0ce0" stroke-width="3.8"/>
<text x="266.0" y="874.9" font-family="Liberation Sans, sans-serif" font-size="32.2" fill="#111" textLength="71.2" lengthAdjust="spacingAndGlyphs">1225</text>
<circle cx="348.3" cy="854.9" r="2.4" fill="none" stroke="#333" stroke-width="1.2"/>
<path d="M367.1 858.1 A8.5 10.3 0 1 0 367.1 871.9" fill="none" stroke="#333" stroke-width="1.7"/>
<line x1="375.1" y1="876.5" x2="383.0" y2="852.5" stroke="#111" stroke-width="2.3"/>
<text x="384.5" y="874.9" font-family="Liberation Sans, sans-serif" font-weight="bold" font-size="29.0" fill="#111" textLength="88.1" lengthAdjust="spacingAndGlyphs">pre-Si</text>
<text x="168.0" y="949.3" font-family="Liberation Sans, sans-serif" font-weight="bold" font-size="39" fill="#111" textLength="56.8" lengthAdjust="spacingAndGlyphs">(b)</text>
</g>
<g id="panel-c">
<g stroke="#1e1e1e" stroke-width="2.4">
<line x1="145.1" y1="1765.7" x2="952.7" y2="1765.7"/><line x1="548.5" y1="1467.0" x2="548.5" y2="2064.5"/>
</g>
<clipPath id="clip-c"><rect x="174.4" y="1467.0" width="749.1" height="597.5"/></clipPath>
<g fill="none" stroke-width="4.0" stroke-linejoin="round" stroke-linecap="round" clip-path="url(#clip-c)"><g transform="scale(1 1.0)">
<g stroke="#000000" stroke-width="1.6">
<path id="cc0" d="M921.9 1475.60 L917.9 1476.06 L914.0 1476.51 L910.0 1476.96 L906.1 1477.40 L902.1 1477.86 L898.1 1478.34 L894.2 1478.85 L890.2 1479.40 L886.2 1479.99 L882.1 1480.60 L878.0 1481.23 L874.0 1481.89 L869.9 1482.58 L865.8 1483.29 L861.8 1484.03 L857.7 1484.80 L853.6 1485.60 L849.5 1486.43 L845.5 1487.29 L841.4 1488.17 L837.3 1489.09 L833.2 1490.03 L829.2 1491.00 L825.1 1492.00 L821.0 1493.04 L816.9 1494.10 L812.9 1495.20 L808.8 1496.32 L804.8 1497.47 L800.7 1498.65 L796.6 1499.86 L792.6 1501.10 L788.5 1502.38 L784.5 1503.69 L780.4 1505.03 L776.3 1506.39 L772.3 1507.78 L768.2 1509.20 L764.1 1510.64 L760.1 1512.10 L756.0 1513.59 L752.0 1515.12 L747.9 1516.67 L743.8 1518.24 L739.8 1519.83 L735.7 1521.44 L731.7 1523.06 L727.6 1524.70 L723.5 1526.37 L719.4 1528.05 L715.4 1529.75 L711.3 1531.47 L707.2 1533.21 L703.1 1534.96 L699.1 1536.72 L695.0 1538.50 L690.9 1540.30 L686.9 1542.12 L682.8 1543.96 L678.7 1545.81 L674.7 1547.68 L670.6 1549.55 L666.6 1551.42 L662.5 1553.30 L658.4 1555.14 L654.3 1556.92 L650.2 1558.68 L646.0 1560.46 L641.9 1562.31 L637.9 1564.25 L633.9 1566.33 L630.0 1568.60 L626.1 1571.16 L622.2 1573.93 L618.4 1576.86 L614.7 1579.89 L611.0 1582.97 L607.3 1586.05 L603.6 1589.08 L600.0 1592.00 L596.6 1594.65 L593.1 1597.24 L589.7 1599.79 L586.4 1602.33 L583.0 1604.90 L579.7 1607.51 L576.5 1610.20 L573.3 1613.00 L570.1 1615.98 L566.8 1619.12 L563.5 1622.35 L560.3 1625.62 L557.2 1628.88 L554.3 1632.07 L551.7 1635.13 L549.3 1638.00 L547.8 1639.88 L546.5 1641.67 L545.3 1643.41 L544.1 1645.11 L543.0 1646.80 L542.0 1648.50 L541.0 1650.22 L540.0 1652.00 L539.0 1653.75 L538.1 1655.47 L537.3 1657.19 L536.5 1658.93 L535.7 1660.72 L534.9 1662.60 L534.1 1664.58 L533.3 1666.70 L532.2 1669.90 L531.1 1673.37 L530.0 1677.05 L529.0 1680.89 L527.9 1684.83 L526.9 1688.81 L525.9 1692.79 L525.0 1696.70 L524.1 1700.76 L523.1 1704.85 L522.3 1708.98 L521.4 1713.14 L520.6 1717.33 L519.8 1721.53 L519.0 1725.76 L518.3 1730.00 L517.6 1734.38 L516.9 1738.79 L516.3 1743.21 L515.6 1747.66 L515.0 1752.13 L514.5 1756.63 L513.9 1761.15 L513.3 1765.70 L512.7 1770.46 L512.2 1775.22 L511.7 1779.99 L511.1 1784.80 L510.6 1789.65 L510.0 1794.58 L509.4 1799.59 L508.7 1804.70 L507.8 1810.70 L506.8 1816.91 L505.8 1823.26 L504.7 1829.69 L503.6 1836.11 L502.5 1842.47 L501.3 1848.69 L500.1 1854.70 L499.0 1859.95 L497.9 1865.13 L496.8 1870.22 L495.6 1875.25 L494.5 1880.20 L493.2 1885.09 L492.0 1889.92 L490.7 1894.70 L489.5 1899.10 L488.3 1903.50 L487.0 1907.87 L485.7 1912.18 L484.4 1916.39 L483.0 1920.47 L481.5 1924.38 L480.0 1928.10 L478.7 1931.04 L477.3 1933.88 L475.8 1936.63 L474.3 1939.28 L472.8 1941.83 L471.2 1944.28 L469.6 1946.64 L468.0 1948.90 L466.6 1950.75 L465.1 1952.48 L463.6 1954.11 L462.1 1955.69 L460.5 1957.23 L458.9 1958.75 L457.2 1960.30 L455.5 1961.90 L453.5 1963.79 L451.4 1965.70 L449.2 1967.62 L447.0 1969.54 L444.7 1971.44 L442.3 1973.32 L439.7 1975.15 L437.0 1976.92 L433.2 1979.10 L429.1 1981.20 L424.8 1983.24 L420.2 1985.23 L415.6 1987.18 L411.0 1989.10 L406.4 1991.00 L402.0 1992.90 L397.9 1994.70 L393.8 1996.48 L389.7 1998.23 L385.7 1999.96 L381.6 2001.67 L377.5 2003.36 L373.5 2005.04 L369.4 2006.70 L365.3 2008.34 L361.3 2009.96 L357.2 2011.57 L353.2 2013.16 L349.1 2014.73 L345.0 2016.28 L341.0 2017.81 L336.9 2019.30 L332.9 2020.76 L328.8 2022.20 L324.7 2023.62 L320.7 2025.01 L316.6 2026.37 L312.5 2027.71 L308.5 2029.02 L304.4 2030.30 L300.4 2031.54 L296.3 2032.75 L292.2 2033.93 L288.2 2035.08 L284.1 2036.20 L280.1 2037.30 L276.0 2038.36 L271.9 2039.40 L267.8 2040.40 L263.8 2041.37 L259.7 2042.31 L255.6 2043.23 L251.5 2044.11 L247.5 2044.97 L243.4 2045.80 L239.3 2046.60 L235.2 2047.37 L231.2 2048.11 L227.1 2048.82 L223.1 2049.50 L219.0 2050.16 L214.9 2050.80 L210.9 2051.41 L206.8 2052.00 L202.3 2052.61 L197.2 2053.26 L191.8 2053.91 L186.5 2054.53 L181.7 2055.07 L177.9 2055.51 L175.3 2055.80 L174.3 2055.90 L174.3 2055.90 L174.4 2055.89 L174.5 2055.88 L174.6 2055.86 L174.7 2055.85 L174.9 2055.83 L175.0 2055.82 L175.1 2055.80 L179.1 2055.34 L183.0 2054.89 L187.0 2054.44 L190.9 2054.00 L194.9 2053.54 L198.9 2053.06 L202.8 2052.55 L206.8 2052.00 L210.8 2051.41 L214.9 2050.80 L219.0 2050.17 L223.0 2049.51 L227.1 2048.82 L231.2 2048.11 L235.2 2047.37 L239.3 2046.60 L243.4 2045.80 L247.5 2044.97 L251.5 2044.11 L255.6 2043.23 L259.7 2042.31 L263.8 2041.37 L267.8 2040.40 L271.9 2039.40 L276.0 2038.36 L280.1 2037.30 L284.1 2036.20 L288.2 2035.08 L292.2 2033.93 L296.3 2032.75 L300.4 2031.54 L304.4 2030.30 L308.5 2029.02 L312.5 2027.71 L316.6 2026.37 L320.7 2025.01 L324.7 2023.62 L328.8 2022.20 L332.9 2020.76 L336.9 2019.30 L341.0 2017.81 L345.0 2016.28 L349.1 2014.73 L353.2 2013.16 L357.2 2011.57 L361.3 2009.96 L365.3 2008.34 L369.4 2006.70 L373.5 2005.03 L377.6 2003.35 L381.6 2001.65 L385.7 1999.93 L389.8 1998.19 L393.9 1996.44 L397.9 1994.68 L402.0 1992.90 L406.1 1991.10 L410.1 1989.28 L414.2 1987.44 L418.3 1985.59 L422.3 1983.72 L426.4 1981.85 L430.4 1979.98 L434.5 1978.10 L438.6 1976.26 L442.7 1974.48 L446.8 1972.72 L451.0 1970.94 L455.1 1969.09 L459.1 1967.15 L463.1 1965.07 L467.0 1962.80 L470.9 1960.24 L474.8 1957.47 L478.6 1954.54 L482.3 1951.51 L486.0 1948.43 L489.7 1945.35 L493.4 1942.32 L497.0 1939.40 L500.4 1936.75 L503.9 1934.16 L507.3 1931.61 L510.6 1929.07 L514.0 1926.50 L517.3 1923.89 L520.5 1921.20 L523.7 1918.40 L526.9 1915.42 L530.2 1912.28 L533.5 1909.05 L536.7 1905.78 L539.8 1902.52 L542.7 1899.33 L545.3 1896.27 L547.7 1893.40 L549.2 1891.52 L550.5 1889.73 L551.7 1887.99 L552.9 1886.29 L554.0 1884.60 L555.0 1882.90 L556.0 1881.18 L557.0 1879.40 L558.0 1877.65 L558.9 1875.93 L559.7 1874.21 L560.5 1872.47 L561.3 1870.68 L562.1 1868.80 L562.9 1866.82 L563.7 1864.70 L564.8 1861.50 L565.9 1858.03 L567.0 1854.35 L568.0 1850.51 L569.1 1846.57 L570.1 1842.59 L571.1 1838.61 L572.0 1834.70 L572.9 1830.64 L573.9 1826.55 L574.7 1822.42 L575.6 1818.26 L576.4 1814.07 L577.2 1809.87 L578.0 1805.64 L578.7 1801.40 L579.4 1797.02 L580.1 1792.61 L580.7 1788.19 L581.4 1783.74 L582.0 1779.27 L582.5 1774.77 L583.1 1770.25 L583.7 1765.70 L584.3 1760.94 L584.8 1756.18 L585.3 1751.41 L585.9 1746.60 L586.4 1741.75 L587.0 1736.82 L587.6 1731.81 L588.3 1726.70 L589.2 1720.70 L590.2 1714.49 L591.2 1708.14 L592.3 1701.71 L593.4 1695.29 L594.5 1688.93 L595.7 1682.71 L596.9 1676.70 L598.0 1671.45 L599.1 1666.27 L600.2 1661.18 L601.4 1656.15 L602.5 1651.20 L603.8 1646.31 L605.0 1641.48 L606.3 1636.70 L607.5 1632.30 L608.7 1627.90 L610.0 1623.53 L611.3 1619.22 L612.6 1615.01 L614.0 1610.93 L615.5 1607.02 L617.0 1603.30 L618.3 1600.36 L619.7 1597.52 L621.2 1594.77 L622.7 1592.12 L624.2 1589.57 L625.8 1587.12 L627.4 1584.76 L629.0 1582.50 L630.4 1580.65 L631.9 1578.92 L633.4 1577.29 L634.9 1575.71 L636.5 1574.17 L638.1 1572.65 L639.8 1571.10 L641.5 1569.50 L643.5 1567.61 L645.6 1565.70 L647.8 1563.78 L650.0 1561.86 L652.3 1559.96 L654.7 1558.08 L657.3 1556.25 L660.0 1554.48 L663.8 1552.30 L667.9 1550.20 L672.2 1548.16 L676.8 1546.17 L681.4 1544.22 L686.0 1542.30 L690.6 1540.40 L695.0 1538.50 L699.1 1536.70 L703.2 1534.92 L707.3 1533.17 L711.3 1531.44 L715.4 1529.73 L719.5 1528.04 L723.5 1526.36 L727.6 1524.70 L731.7 1523.06 L735.7 1521.44 L739.8 1519.83 L743.8 1518.24 L747.9 1516.67 L752.0 1515.12 L756.0 1513.59 L760.1 1512.10 L764.1 1510.64 L768.2 1509.20 L772.3 1507.78 L776.3 1506.39 L780.4 1505.03 L784.5 1503.69 L788.5 1502.38 L792.6 1501.10 L796.6 1499.86 L800.7 1498.65 L804.8 1497.47 L808.8 1496.32 L812.9 1495.20 L816.9 1494.10 L821.0 1493.04 L825.1 1492.00 L829.2 1491.00 L833.2 1490.03 L837.3 1489.09 L841.4 1488.17 L845.5 1487.29 L849.5 1486.43 L853.6 1485.60 L857.7 1484.80 L861.8 1484.03 L865.8 1483.29 L869.9 1482.58 L873.9 1481.90 L878.0 1481.24 L882.1 1480.60 L886.1 1479.99 L890.2 1479.40 L894.7 1478.79 L899.8 1478.14 L905.2 1477.49 L910.5 1476.87 L915.3 1476.33 L919.1 1475.89 L921.7 1475.60 L922.7 1475.50 L922.7 1475.50 L922.6 1475.51 L922.5 1475.52 L922.4 1475.54 L922.3 1475.55 L922.1 1475.57 L922.0 1475.58 L921.9 1475.60"/>
<use href="#cc0" x="1.30" y="0.00"/>
<use href="#cc0" x="-1.30" y="0.00"/>
<use href="#cc0" x="0.00" y="1.70"/>
<use href="#cc0" x="0.00" y="-1.70"/>
<use href="#cc0" x="0.65" y="0.00"/>
<use href="#cc0" x="-0.65" y="0.00"/>
<use href="#cc0" x="0.00" y="0.85"/>
<use href="#cc0" x="0.00" y="-0.85"/>
</g>
<g stroke="#e3141c" stroke-width="1.7">
<path id="cc1" d="M921.9 1489.90 L918.0 1490.38 L914.0 1490.85 L910.1 1491.32 L906.1 1491.79 L902.2 1492.26 L898.2 1492.75 L894.3 1493.26 L890.3 1493.80 L886.3 1494.37 L882.2 1494.95 L878.2 1495.54 L874.1 1496.15 L870.1 1496.79 L866.0 1497.44 L861.9 1498.11 L857.9 1498.80 L853.8 1499.52 L849.8 1500.26 L845.7 1501.02 L841.7 1501.80 L837.6 1502.60 L833.6 1503.41 L829.5 1504.25 L825.5 1505.10 L821.4 1505.97 L817.4 1506.86 L813.3 1507.76 L809.3 1508.69 L805.2 1509.63 L801.2 1510.60 L797.1 1511.59 L793.1 1512.60 L789.0 1513.64 L785.0 1514.71 L780.9 1515.80 L776.8 1516.91 L772.8 1518.05 L768.7 1519.21 L764.6 1520.39 L760.6 1521.60 L756.5 1522.84 L752.5 1524.10 L748.4 1525.39 L744.4 1526.70 L740.3 1528.04 L736.3 1529.40 L732.2 1530.79 L728.2 1532.20 L724.1 1533.65 L720.1 1535.12 L716.0 1536.61 L712.0 1538.13 L707.9 1539.68 L703.9 1541.26 L699.8 1542.86 L695.8 1544.50 L691.7 1546.18 L687.7 1547.89 L683.6 1549.63 L679.6 1551.40 L675.5 1553.20 L671.5 1555.04 L667.4 1556.90 L663.4 1558.80 L659.3 1560.75 L655.2 1562.72 L651.2 1564.72 L647.1 1566.75 L643.1 1568.83 L639.0 1570.96 L635.0 1573.14 L631.0 1575.40 L626.8 1577.85 L622.6 1580.44 L618.3 1583.13 L614.0 1585.85 L609.8 1588.56 L605.8 1591.21 L602.0 1593.74 L598.5 1596.10 L596.2 1597.69 L593.9 1599.19 L591.9 1600.64 L589.9 1602.05 L587.9 1603.45 L586.0 1604.86 L584.0 1606.30 L582.0 1607.80 L579.9 1609.36 L577.9 1610.93 L575.8 1612.50 L573.8 1614.10 L571.7 1615.73 L569.7 1617.40 L567.7 1619.12 L565.7 1620.90 L563.6 1622.84 L561.4 1624.83 L559.3 1626.86 L557.2 1628.95 L555.1 1631.08 L553.1 1633.27 L551.2 1635.51 L549.3 1637.80 L547.5 1640.18 L545.8 1642.62 L544.2 1645.12 L542.6 1647.66 L541.1 1650.26 L539.6 1652.90 L538.2 1655.58 L536.7 1658.30 L535.1 1661.27 L533.6 1664.30 L532.1 1667.39 L530.6 1670.52 L529.2 1673.69 L527.8 1676.89 L526.4 1680.09 L525.0 1683.30 L523.6 1686.57 L522.3 1689.88 L521.0 1693.21 L519.8 1696.55 L518.5 1699.91 L517.3 1703.28 L516.2 1706.64 L515.0 1710.00 L513.9 1713.32 L512.8 1716.63 L511.7 1719.94 L510.7 1723.25 L509.7 1726.58 L508.7 1729.93 L507.7 1733.30 L506.7 1736.70 L505.7 1740.24 L504.7 1743.78 L503.8 1747.34 L502.8 1750.92 L501.9 1754.54 L500.9 1758.20 L500.0 1761.92 L499.0 1765.70 L497.9 1769.95 L496.8 1774.24 L495.6 1778.59 L494.5 1783.00 L493.4 1787.48 L492.3 1792.03 L491.2 1796.67 L490.1 1801.40 L489.0 1806.94 L487.9 1812.67 L486.8 1818.53 L485.8 1824.47 L484.8 1830.45 L483.7 1836.42 L482.6 1842.32 L481.4 1848.10 L480.1 1853.66 L478.8 1859.26 L477.5 1864.85 L476.1 1870.39 L474.6 1875.86 L473.2 1881.20 L471.7 1886.40 L470.3 1891.40 L469.1 1895.45 L467.9 1899.37 L466.8 1903.19 L465.6 1906.93 L464.4 1910.59 L463.1 1914.22 L461.7 1917.81 L460.3 1921.40 L458.8 1924.90 L457.3 1928.41 L455.8 1931.89 L454.2 1935.33 L452.5 1938.70 L450.8 1941.97 L448.9 1945.11 L447.0 1948.10 L445.2 1950.67 L443.3 1953.12 L441.3 1955.45 L439.3 1957.70 L437.1 1959.90 L435.0 1962.07 L432.7 1964.22 L430.3 1966.40 L427.5 1968.89 L424.6 1971.38 L421.6 1973.86 L418.5 1976.30 L415.3 1978.68 L412.0 1980.98 L408.5 1983.17 L405.0 1985.22 L400.9 1987.34 L396.5 1989.29 L392.0 1991.12 L387.3 1992.84 L382.6 1994.48 L377.9 1996.07 L373.3 1997.63 L368.8 1999.20 L364.7 2000.65 L360.6 2002.06 L356.6 2003.42 L352.5 2004.75 L348.5 2006.05 L344.5 2007.32 L340.5 2008.57 L336.4 2009.80 L332.4 2011.01 L328.3 2012.19 L324.2 2013.35 L320.2 2014.49 L316.1 2015.60 L312.0 2016.69 L308.0 2017.76 L303.9 2018.80 L299.9 2019.81 L295.8 2020.80 L291.8 2021.77 L287.7 2022.71 L283.7 2023.64 L279.6 2024.54 L275.6 2025.43 L271.5 2026.30 L267.5 2027.15 L263.4 2027.99 L259.4 2028.80 L255.3 2029.60 L251.3 2030.38 L247.2 2031.14 L243.2 2031.88 L239.1 2032.60 L235.1 2033.29 L231.0 2033.96 L227.0 2034.61 L222.9 2035.24 L218.9 2035.85 L214.8 2036.45 L210.8 2037.03 L206.7 2037.60 L202.2 2038.20 L197.1 2038.86 L191.7 2039.52 L186.5 2040.16 L181.7 2040.73 L177.8 2041.19 L175.2 2041.49 L174.3 2041.60 L174.3 2041.60 L174.4 2041.59 L174.5 2041.58 L174.6 2041.56 L174.7 2041.55 L174.9 2041.53 L175.0 2041.51 L175.1 2041.50 L179.0 2041.02 L183.0 2040.55 L186.9 2040.08 L190.9 2039.61 L194.8 2039.14 L198.8 2038.65 L202.7 2038.14 L206.7 2037.60 L210.7 2037.03 L214.8 2036.45 L218.8 2035.86 L222.9 2035.25 L226.9 2034.61 L231.0 2033.96 L235.1 2033.29 L239.1 2032.60 L243.2 2031.88 L247.2 2031.14 L251.3 2030.38 L255.3 2029.60 L259.4 2028.80 L263.4 2027.99 L267.5 2027.15 L271.5 2026.30 L275.6 2025.43 L279.6 2024.54 L283.7 2023.64 L287.7 2022.71 L291.8 2021.77 L295.8 2020.80 L299.9 2019.81 L303.9 2018.80 L308.0 2017.76 L312.0 2016.69 L316.1 2015.60 L320.2 2014.49 L324.2 2013.35 L328.3 2012.19 L332.4 2011.01 L336.4 2009.80 L340.5 2008.56 L344.5 2007.30 L348.6 2006.01 L352.6 2004.70 L356.7 2003.36 L360.7 2002.00 L364.8 2000.61 L368.8 1999.20 L372.9 1997.75 L376.9 1996.28 L381.0 1994.79 L385.0 1993.27 L389.1 1991.72 L393.1 1990.14 L397.2 1988.54 L401.2 1986.90 L405.3 1985.22 L409.3 1983.51 L413.4 1981.77 L417.4 1980.00 L421.5 1978.20 L425.5 1976.36 L429.6 1974.50 L433.6 1972.60 L437.7 1970.65 L441.8 1968.68 L445.8 1966.68 L449.9 1964.65 L453.9 1962.57 L458.0 1960.44 L462.0 1958.26 L466.0 1956.00 L470.2 1953.55 L474.4 1950.96 L478.7 1948.27 L483.0 1945.55 L487.2 1942.84 L491.2 1940.19 L495.0 1937.66 L498.5 1935.30 L500.8 1933.71 L503.1 1932.21 L505.1 1930.76 L507.1 1929.35 L509.1 1927.95 L511.0 1926.54 L513.0 1925.10 L515.0 1923.60 L517.1 1922.04 L519.1 1920.47 L521.2 1918.90 L523.2 1917.30 L525.3 1915.67 L527.3 1914.00 L529.3 1912.28 L531.3 1910.50 L533.4 1908.56 L535.6 1906.57 L537.7 1904.54 L539.8 1902.45 L541.9 1900.32 L543.9 1898.13 L545.8 1895.89 L547.7 1893.60 L549.5 1891.22 L551.2 1888.78 L552.8 1886.28 L554.4 1883.74 L555.9 1881.14 L557.4 1878.50 L558.8 1875.82 L560.3 1873.10 L561.9 1870.13 L563.4 1867.10 L564.9 1864.01 L566.4 1860.88 L567.8 1857.71 L569.2 1854.51 L570.6 1851.31 L572.0 1848.10 L573.4 1844.83 L574.7 1841.52 L576.0 1838.19 L577.2 1834.85 L578.5 1831.49 L579.7 1828.12 L580.8 1824.76 L582.0 1821.40 L583.1 1818.08 L584.2 1814.77 L585.3 1811.46 L586.3 1808.15 L587.3 1804.82 L588.3 1801.47 L589.3 1798.10 L590.3 1794.70 L591.3 1791.16 L592.3 1787.62 L593.2 1784.06 L594.2 1780.48 L595.1 1776.86 L596.1 1773.20 L597.0 1769.48 L598.0 1765.70 L599.1 1761.45 L600.2 1757.16 L601.4 1752.81 L602.5 1748.40 L603.6 1743.92 L604.7 1739.37 L605.8 1734.73 L606.9 1730.00 L608.0 1724.46 L609.1 1718.73 L610.2 1712.87 L611.2 1706.93 L612.2 1700.95 L613.3 1694.98 L614.4 1689.08 L615.6 1683.30 L616.9 1677.74 L618.2 1672.14 L619.5 1666.55 L620.9 1661.01 L622.4 1655.54 L623.8 1650.20 L625.3 1645.00 L626.7 1640.00 L627.9 1635.95 L629.1 1632.03 L630.2 1628.21 L631.4 1624.47 L632.6 1620.81 L633.9 1617.18 L635.3 1613.59 L636.7 1610.00 L638.2 1606.50 L639.7 1602.99 L641.2 1599.51 L642.8 1596.07 L644.5 1592.70 L646.2 1589.43 L648.1 1586.29 L650.0 1583.30 L651.8 1580.73 L653.7 1578.28 L655.7 1575.95 L657.7 1573.70 L659.9 1571.50 L662.0 1569.33 L664.3 1567.18 L666.7 1565.00 L669.5 1562.51 L672.4 1560.02 L675.4 1557.54 L678.5 1555.10 L681.7 1552.72 L685.0 1550.42 L688.5 1548.23 L692.0 1546.18 L696.1 1544.06 L700.5 1542.11 L705.0 1540.28 L709.7 1538.56 L714.4 1536.92 L719.1 1535.33 L723.7 1533.77 L728.2 1532.20 L732.3 1530.75 L736.4 1529.34 L740.4 1527.98 L744.5 1526.65 L748.5 1525.35 L752.5 1524.08 L756.5 1522.83 L760.6 1521.60 L764.6 1520.39 L768.7 1519.21 L772.8 1518.05 L776.8 1516.91 L780.9 1515.80 L785.0 1514.71 L789.0 1513.64 L793.1 1512.60 L797.1 1511.59 L801.2 1510.60 L805.2 1509.63 L809.3 1508.69 L813.3 1507.76 L817.4 1506.86 L821.4 1505.97 L825.5 1505.10 L829.5 1504.25 L833.6 1503.41 L837.6 1502.60 L841.7 1501.80 L845.7 1501.02 L849.8 1500.26 L853.8 1499.52 L857.9 1498.80 L861.9 1498.11 L866.0 1497.44 L870.0 1496.79 L874.1 1496.16 L878.1 1495.55 L882.2 1494.95 L886.2 1494.37 L890.3 1493.80 L894.8 1493.20 L899.9 1492.54 L905.3 1491.88 L910.5 1491.24 L915.3 1490.67 L919.2 1490.21 L921.8 1489.91 L922.7 1489.80 L922.7 1489.80 L922.6 1489.81 L922.5 1489.82 L922.4 1489.84 L922.3 1489.85 L922.1 1489.87 L922.0 1489.89 L921.9 1489.90"/>
<use href="#cc1" x="1.40" y="0.00"/>
<use href="#cc1" x="-1.40" y="0.00"/>
<use href="#cc1" x="0.00" y="1.80"/>
<use href="#cc1" x="0.00" y="-1.80"/>
<use href="#cc1" x="0.70" y="0.00"/>
<use href="#cc1" x="-0.70" y="0.00"/>
<use href="#cc1" x="0.00" y="0.90"/>
<use href="#cc1" x="0.00" y="-0.90"/>
</g>
<g stroke="#0c0ce0" stroke-width="1.7">
<path id="cc2" d="M921.9 1489.17 L918.0 1489.50 L914.0 1489.82 L910.1 1490.14 L906.1 1490.46 L902.2 1490.79 L898.2 1491.13 L894.3 1491.50 L890.3 1491.90 L886.3 1492.33 L882.2 1492.78 L878.2 1493.25 L874.1 1493.74 L870.1 1494.24 L866.0 1494.77 L861.9 1495.33 L857.9 1495.90 L853.8 1496.50 L849.8 1497.12 L845.7 1497.77 L841.7 1498.43 L837.6 1499.12 L833.6 1499.83 L829.5 1500.55 L825.5 1501.30 L821.4 1502.07 L817.4 1502.85 L813.3 1503.66 L809.3 1504.49 L805.2 1505.33 L801.2 1506.20 L797.1 1507.09 L793.1 1508.00 L789.0 1508.94 L785.0 1509.90 L780.9 1510.88 L776.8 1511.89 L772.8 1512.91 L768.7 1513.95 L764.7 1515.02 L760.6 1516.10 L756.5 1517.21 L752.5 1518.33 L748.4 1519.48 L744.4 1520.65 L740.3 1521.84 L736.3 1523.04 L732.2 1524.26 L728.2 1525.50 L724.1 1526.76 L720.1 1528.04 L716.0 1529.34 L712.0 1530.66 L707.9 1531.99 L703.9 1533.34 L699.8 1534.71 L695.8 1536.10 L691.7 1537.51 L687.7 1538.95 L683.6 1540.40 L679.6 1541.87 L675.5 1543.36 L671.5 1544.86 L667.4 1546.37 L663.4 1547.90 L659.3 1549.42 L655.3 1550.92 L651.2 1552.41 L647.1 1553.93 L643.1 1555.49 L639.0 1557.13 L635.0 1558.86 L631.0 1560.70 L626.9 1562.75 L622.8 1564.93 L618.7 1567.21 L614.7 1569.56 L610.6 1571.96 L606.6 1574.39 L602.6 1576.81 L598.5 1579.20 L594.3 1581.63 L590.0 1584.10 L585.7 1586.60 L581.3 1589.11 L577.1 1591.61 L573.0 1594.07 L569.2 1596.47 L565.7 1598.80 L563.3 1600.44 L561.1 1602.00 L558.9 1603.52 L556.9 1605.03 L554.9 1606.56 L553.0 1608.13 L551.1 1609.76 L549.3 1611.50 L547.5 1613.30 L545.8 1615.16 L544.2 1617.06 L542.6 1619.02 L541.1 1621.03 L539.6 1623.08 L538.1 1625.17 L536.7 1627.30 L535.3 1629.56 L533.9 1631.88 L532.6 1634.25 L531.4 1636.66 L530.2 1639.12 L529.0 1641.61 L527.8 1644.14 L526.7 1646.70 L525.5 1649.47 L524.4 1652.29 L523.3 1655.15 L522.2 1658.06 L521.2 1661.00 L520.2 1663.97 L519.2 1666.97 L518.3 1670.00 L517.4 1673.21 L516.5 1676.45 L515.6 1679.72 L514.8 1683.02 L514.0 1686.36 L513.3 1689.76 L512.5 1693.20 L511.7 1696.70 L510.8 1700.67 L510.0 1704.73 L509.1 1708.85 L508.3 1713.04 L507.5 1717.26 L506.6 1721.50 L505.8 1725.75 L505.0 1730.00 L504.1 1734.39 L503.3 1738.80 L502.4 1743.22 L501.6 1747.67 L500.8 1752.13 L499.9 1756.63 L499.1 1761.15 L498.3 1765.70 L497.5 1770.46 L496.7 1775.21 L495.9 1779.98 L495.2 1784.79 L494.4 1789.64 L493.6 1794.57 L492.8 1799.58 L492.0 1804.70 L491.0 1810.68 L490.0 1816.85 L489.0 1823.16 L488.0 1829.54 L486.9 1835.95 L485.9 1842.31 L484.8 1848.58 L483.7 1854.70 L482.7 1860.33 L481.7 1865.97 L480.7 1871.57 L479.6 1877.12 L478.6 1882.57 L477.5 1887.91 L476.4 1893.09 L475.3 1898.10 L474.3 1902.16 L473.4 1906.11 L472.4 1909.97 L471.4 1913.74 L470.4 1917.43 L469.3 1921.05 L468.2 1924.60 L467.0 1928.10 L465.9 1931.21 L464.8 1934.27 L463.6 1937.28 L462.4 1940.23 L461.2 1943.12 L459.9 1945.94 L458.5 1948.71 L457.0 1951.40 L455.6 1953.87 L454.1 1956.28 L452.5 1958.62 L450.9 1960.91 L449.2 1963.15 L447.5 1965.36 L445.6 1967.54 L443.7 1969.70 L441.4 1972.09 L439.0 1974.51 L436.5 1976.92 L433.9 1979.28 L431.3 1981.54 L428.5 1983.67 L425.8 1985.62 L423.0 1987.36 L420.4 1988.73 L417.8 1989.89 L415.2 1990.89 L412.5 1991.79 L409.8 1992.62 L407.0 1993.45 L404.2 1994.33 L401.2 1995.30 L397.5 1996.58 L393.6 1997.90 L389.5 1999.25 L385.4 2000.61 L381.3 2001.96 L377.1 2003.31 L372.9 2004.62 L368.8 2005.90 L364.8 2007.14 L360.7 2008.36 L356.7 2009.56 L352.6 2010.75 L348.6 2011.92 L344.5 2013.07 L340.5 2014.19 L336.4 2015.30 L332.3 2016.38 L328.3 2017.45 L324.2 2018.49 L320.2 2019.51 L316.1 2020.52 L312.0 2021.50 L308.0 2022.46 L303.9 2023.40 L299.9 2024.31 L295.8 2025.20 L291.8 2026.07 L287.7 2026.91 L283.7 2027.74 L279.6 2028.55 L275.6 2029.33 L271.5 2030.10 L267.5 2030.85 L263.4 2031.57 L259.4 2032.28 L255.3 2032.97 L251.3 2033.63 L247.2 2034.28 L243.2 2034.90 L239.1 2035.50 L235.1 2036.07 L231.0 2036.63 L227.0 2037.15 L222.9 2037.66 L218.9 2038.15 L214.8 2038.62 L210.8 2039.07 L206.7 2039.50 L202.2 2039.95 L197.1 2040.42 L191.7 2040.88 L186.5 2041.32 L181.7 2041.71 L177.8 2042.02 L175.2 2042.23 L174.3 2042.30 L174.3 2042.30 L174.4 2042.29 L174.5 2042.28 L174.6 2042.27 L174.7 2042.26 L174.9 2042.25 L175.0 2042.24 L175.1 2042.23 L179.0 2041.90 L183.0 2041.58 L186.9 2041.26 L190.9 2040.94 L194.8 2040.61 L198.8 2040.27 L202.7 2039.90 L206.7 2039.50 L210.7 2039.07 L214.8 2038.62 L218.8 2038.15 L222.9 2037.66 L226.9 2037.16 L231.0 2036.63 L235.1 2036.07 L239.1 2035.50 L243.2 2034.90 L247.2 2034.28 L251.3 2033.63 L255.3 2032.97 L259.4 2032.28 L263.4 2031.57 L267.5 2030.85 L271.5 2030.10 L275.6 2029.33 L279.6 2028.55 L283.7 2027.74 L287.7 2026.91 L291.8 2026.07 L295.8 2025.20 L299.9 2024.31 L303.9 2023.40 L308.0 2022.46 L312.0 2021.50 L316.1 2020.52 L320.2 2019.51 L324.2 2018.49 L328.3 2017.45 L332.3 2016.38 L336.4 2015.30 L340.5 2014.19 L344.5 2013.07 L348.6 2011.92 L352.6 2010.75 L356.7 2009.56 L360.7 2008.36 L364.8 2007.14 L368.8 2005.90 L372.9 2004.64 L376.9 2003.36 L381.0 2002.06 L385.0 2000.74 L389.1 1999.41 L393.1 1998.06 L397.2 1996.69 L401.2 1995.30 L405.3 1993.89 L409.3 1992.45 L413.4 1991.00 L417.4 1989.53 L421.5 1988.04 L425.5 1986.54 L429.6 1985.03 L433.6 1983.50 L437.7 1981.98 L441.7 1980.48 L445.8 1978.99 L449.9 1977.47 L453.9 1975.91 L458.0 1974.27 L462.0 1972.54 L466.0 1970.70 L470.1 1968.65 L474.2 1966.47 L478.3 1964.19 L482.3 1961.84 L486.4 1959.44 L490.4 1957.01 L494.4 1954.59 L498.5 1952.20 L502.7 1949.77 L507.0 1947.30 L511.3 1944.80 L515.7 1942.29 L519.9 1939.79 L524.0 1937.33 L527.8 1934.93 L531.3 1932.60 L533.7 1930.96 L535.9 1929.40 L538.1 1927.88 L540.1 1926.37 L542.1 1924.84 L544.0 1923.27 L545.9 1921.64 L547.7 1919.90 L549.5 1918.10 L551.2 1916.24 L552.8 1914.34 L554.4 1912.38 L555.9 1910.37 L557.4 1908.32 L558.9 1906.23 L560.3 1904.10 L561.7 1901.84 L563.1 1899.52 L564.4 1897.15 L565.6 1894.74 L566.8 1892.28 L568.0 1889.79 L569.2 1887.26 L570.3 1884.70 L571.5 1881.93 L572.6 1879.11 L573.7 1876.25 L574.8 1873.34 L575.8 1870.40 L576.8 1867.43 L577.8 1864.43 L578.7 1861.40 L579.6 1858.19 L580.5 1854.95 L581.4 1851.68 L582.2 1848.38 L583.0 1845.04 L583.7 1841.64 L584.5 1838.20 L585.3 1834.70 L586.2 1830.73 L587.0 1826.67 L587.9 1822.55 L588.7 1818.36 L589.5 1814.14 L590.4 1809.90 L591.2 1805.65 L592.0 1801.40 L592.9 1797.01 L593.7 1792.60 L594.6 1788.18 L595.4 1783.73 L596.2 1779.27 L597.1 1774.77 L597.9 1770.25 L598.7 1765.70 L599.5 1760.94 L600.3 1756.19 L601.1 1751.42 L601.8 1746.61 L602.6 1741.76 L603.4 1736.83 L604.2 1731.82 L605.0 1726.70 L606.0 1720.72 L607.0 1714.55 L608.0 1708.24 L609.0 1701.86 L610.1 1695.45 L611.1 1689.09 L612.2 1682.82 L613.3 1676.70 L614.3 1671.07 L615.3 1665.43 L616.3 1659.83 L617.4 1654.28 L618.4 1648.83 L619.5 1643.49 L620.6 1638.31 L621.7 1633.30 L622.7 1629.24 L623.6 1625.29 L624.6 1621.43 L625.6 1617.66 L626.6 1613.97 L627.7 1610.35 L628.8 1606.80 L630.0 1603.30 L631.1 1600.19 L632.2 1597.13 L633.4 1594.12 L634.6 1591.17 L635.8 1588.28 L637.1 1585.46 L638.5 1582.69 L640.0 1580.00 L641.4 1577.53 L642.9 1575.12 L644.5 1572.78 L646.1 1570.49 L647.8 1568.25 L649.5 1566.04 L651.4 1563.86 L653.3 1561.70 L655.6 1559.31 L658.0 1556.89 L660.5 1554.48 L663.1 1552.12 L665.7 1549.86 L668.5 1547.73 L671.2 1545.78 L674.0 1544.04 L676.6 1542.67 L679.2 1541.51 L681.8 1540.51 L684.5 1539.61 L687.2 1538.78 L690.0 1537.95 L692.8 1537.07 L695.8 1536.10 L699.5 1534.82 L703.4 1533.50 L707.5 1532.15 L711.6 1530.79 L715.7 1529.44 L719.9 1528.09 L724.1 1526.78 L728.2 1525.50 L732.2 1524.26 L736.3 1523.04 L740.3 1521.84 L744.4 1520.65 L748.4 1519.48 L752.5 1518.33 L756.5 1517.21 L760.6 1516.10 L764.7 1515.02 L768.7 1513.95 L772.8 1512.91 L776.8 1511.89 L780.9 1510.88 L785.0 1509.90 L789.0 1508.94 L793.1 1508.00 L797.1 1507.09 L801.2 1506.20 L805.2 1505.33 L809.3 1504.49 L813.3 1503.66 L817.4 1502.85 L821.4 1502.07 L825.5 1501.30 L829.5 1500.55 L833.6 1499.83 L837.6 1499.12 L841.7 1498.43 L845.7 1497.77 L849.8 1497.12 L853.8 1496.50 L857.9 1495.90 L861.9 1495.33 L866.0 1494.77 L870.0 1494.25 L874.1 1493.74 L878.1 1493.25 L882.2 1492.78 L886.2 1492.33 L890.3 1491.90 L894.8 1491.45 L899.9 1490.98 L905.3 1490.52 L910.5 1490.08 L915.3 1489.69 L919.2 1489.38 L921.8 1489.17 L922.7 1489.10 L922.7 1489.10 L922.6 1489.11 L922.5 1489.12 L922.4 1489.13 L922.3 1489.14 L922.1 1489.15 L922.0 1489.16 L921.9 1489.17"/>
<use href="#cc2" x="1.40" y="0.00"/>
<use href="#cc2" x="-1.40" y="0.00"/>
<use href="#cc2" x="0.00" y="1.80"/>
<use href="#cc2" x="0.00" y="-1.80"/>
<use href="#cc2" x="0.70" y="0.00"/>
<use href="#cc2" x="-0.70" y="0.00"/>
<use href="#cc2" x="0.00" y="0.90"/>
<use href="#cc2" x="0.00" y="-0.90"/>
</g>
</g></g>
<rect x="145.1" y="1467.0" width="807.6" height="597.5" fill="none" stroke="#161616" stroke-width="2.4"/>
<g stroke="#161616" stroke-width="2.4">
<line x1="137.1" y1="2064.2" x2="145.1" y2="2064.2"/>
<line x1="131.1" y1="2021.6" x2="145.1" y2="2021.6"/>
<line x1="137.1" y1="1979.0" x2="145.1" y2="1979.0"/>
<line x1="131.1" y1="1936.3" x2="145.1" y2="1936.3"/>
<line x1="137.1" y1="1893.7" x2="145.1" y2="1893.7"/>
<line x1="131.1" y1="1851.0" x2="145.1" y2="1851.0"/>
<line x1="137.1" y1="1808.4" x2="145.1" y2="1808.4"/>
<line x1="131.1" y1="1765.7" x2="145.1" y2="1765.7"/>
<line x1="137.1" y1="1723.0" x2="145.1" y2="1723.0"/>
<line x1="131.1" y1="1680.4" x2="145.1" y2="1680.4"/>
<line x1="137.1" y1="1637.8" x2="145.1" y2="1637.8"/>
<line x1="131.1" y1="1595.1" x2="145.1" y2="1595.1"/>
<line x1="137.1" y1="1552.5" x2="145.1" y2="1552.5"/>
<line x1="131.1" y1="1509.8" x2="145.1" y2="1509.8"/>
<line x1="137.1" y1="1467.2" x2="145.1" y2="1467.2"/>
<line x1="175.0" y1="2064.5" x2="175.0" y2="2072.5"/>
<line x1="249.7" y1="2064.5" x2="249.7" y2="2078.3"/>
<line x1="324.4" y1="2064.5" x2="324.4" y2="2072.5"/>
<line x1="399.1" y1="2064.5" x2="399.1" y2="2078.3"/>
<line x1="473.8" y1="2064.5" x2="473.8" y2="2072.5"/>
<line x1="548.5" y1="2064.5" x2="548.5" y2="2078.3"/>
<line x1="623.2" y1="2064.5" x2="623.2" y2="2072.5"/>
<line x1="697.9" y1="2064.5" x2="697.9" y2="2078.3"/>
<line x1="772.6" y1="2064.5" x2="772.6" y2="2072.5"/>
<line x1="847.3" y1="2064.5" x2="847.3" y2="2078.3"/>
<line x1="922.0" y1="2064.5" x2="922.0" y2="2072.5"/>
</g>
<g font-family="Liberation Sans, sans-serif" font-size="27.8" fill="#161616">
<text x="123.5" y="2028.8" text-anchor="end">-60</text>
<text x="123.5" y="1943.5" text-anchor="end">-40</text>
<text x="123.5" y="1858.2" text-anchor="end">-20</text>
<text x="123.5" y="1772.9" text-anchor="end">0</text>
<text x="123.5" y="1687.6" text-anchor="end">20</text>
<text x="123.5" y="1602.3" text-anchor="end">40</text>
<text x="123.5" y="1517.0" text-anchor="end">60</text>
<text x="248.7" y="2107.2" text-anchor="middle">-20k</text>
<text x="398.1" y="2107.2" text-anchor="middle">-10k</text>
<text x="548.5" y="2107.2" text-anchor="middle">0</text>
<text x="697.9" y="2107.2" text-anchor="middle">10k</text>
<text x="847.3" y="2107.2" text-anchor="middle">20k</text>
</g>
<g font-family="Liberation Sans, sans-serif" font-size="34.2" fill="#161616">
<text x="548.9" y="2161.1" text-anchor="middle">H(Oe)</text>
<text transform="translate(61.0 1757.7) rotate(-90)" text-anchor="middle">M(emu/g)</text>
</g>
<rect x="159.7" y="1480.0" width="328.4" height="130.9" rx="1.2" fill="#fff" stroke="#686868" stroke-width="1.4"/>
<line x1="160.0" y1="1500.5" x2="241.6" y2="1500.5" stroke="#000000" stroke-width="4.8"/>
<text x="251.3" y="1512.7" font-family="Liberation Sans, sans-serif" font-size="36.5" fill="#111" textLength="76.6" lengthAdjust="spacingAndGlyphs">1250</text>
<circle cx="336.1" cy="1489.3" r="2.6" fill="none" stroke="#333" stroke-width="1.2"/>
<path d="M356.4 1494.5 A9.2 11.1 0 1 0 356.4 1509.4" fill="none" stroke="#333" stroke-width="1.7"/>
<line x1="364.2" y1="1514.3" x2="373.7" y2="1487.0" stroke="#111" stroke-width="2.3"/>
<text x="374.6" y="1512.7" font-family="Liberation Sans, sans-serif" font-weight="bold" font-size="32.5" fill="#111" textLength="85.4" lengthAdjust="spacingAndGlyphs">No-Si</text>
<line x1="160.0" y1="1545.5" x2="241.6" y2="1545.5" stroke="#e3141c" stroke-width="4.8"/>
<text x="251.3" y="1557.5" font-family="Liberation Sans, sans-serif" font-size="36.5" fill="#111" textLength="76.6" lengthAdjust="spacingAndGlyphs">1250</text>
<circle cx="336.1" cy="1534.1" r="2.6" fill="none" stroke="#333" stroke-width="1.2"/>
<path d="M356.4 1539.3 A9.2 11.1 0 1 0 356.4 1554.2" fill="none" stroke="#333" stroke-width="1.7"/>
<line x1="364.2" y1="1559.1" x2="373.7" y2="1531.8" stroke="#111" stroke-width="2.3"/>
<text x="374.6" y="1557.5" font-family="Liberation Sans, sans-serif" font-weight="bold" font-size="32.5" fill="#111" textLength="104.6" lengthAdjust="spacingAndGlyphs">post-Si</text>
<line x1="160.0" y1="1591.0" x2="241.6" y2="1591.0" stroke="#0c0ce0" stroke-width="4.8"/>
<text x="251.3" y="1602.0" font-family="Liberation Sans, sans-serif" font-size="36.5" fill="#111" textLength="76.6" lengthAdjust="spacingAndGlyphs">1250</text>
<circle cx="336.1" cy="1578.6" r="2.6" fill="none" stroke="#333" stroke-width="1.2"/>
<path d="M356.4 1583.8 A9.2 11.1 0 1 0 356.4 1598.7" fill="none" stroke="#333" stroke-width="1.7"/>
<line x1="364.2" y1="1603.6" x2="373.7" y2="1576.3" stroke="#111" stroke-width="2.3"/>
<text x="374.6" y="1602.0" font-family="Liberation Sans, sans-serif" font-weight="bold" font-size="32.5" fill="#111" textLength="89.2" lengthAdjust="spacingAndGlyphs">pre-Si</text>
<text x="168.0" y="1673.4" font-family="Liberation Sans, sans-serif" font-weight="bold" font-size="39" fill="#111" textLength="50.4" lengthAdjust="spacingAndGlyphs">(c)</text>
</g>
</g>
</svg>
</body></html>
